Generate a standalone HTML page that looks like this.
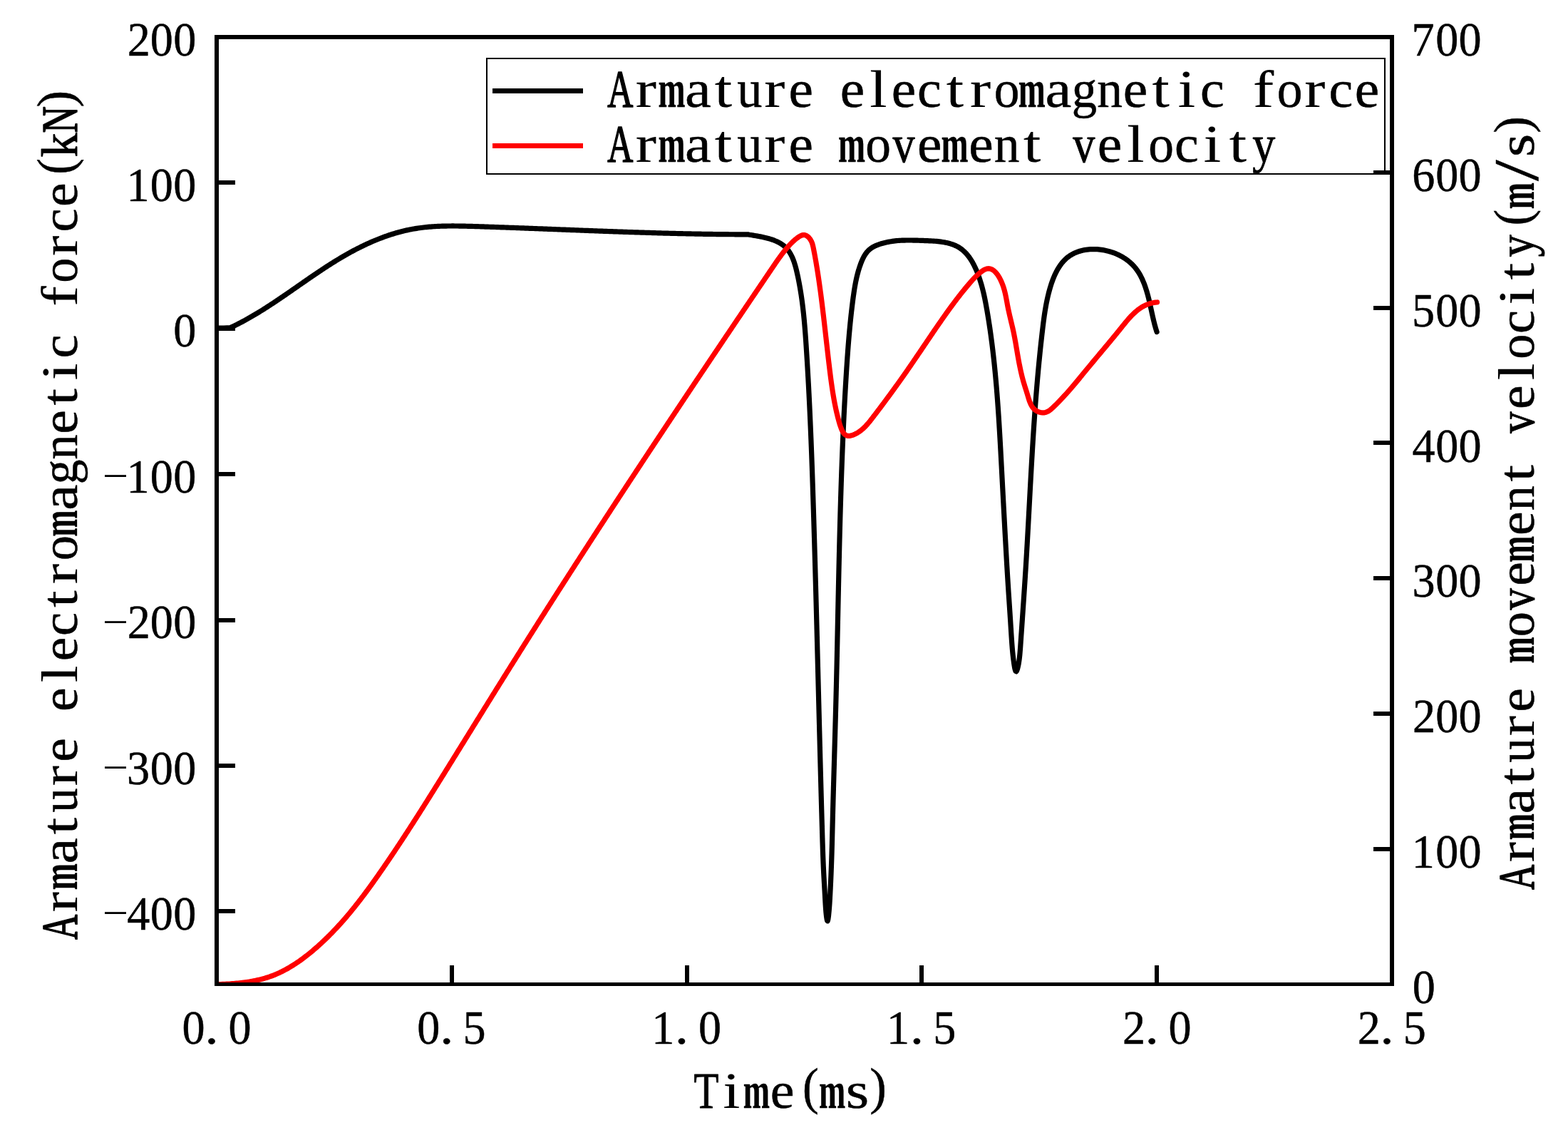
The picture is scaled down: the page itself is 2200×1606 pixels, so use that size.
<!DOCTYPE html>
<html lang="en"><head><meta charset="utf-8"><title>Armature electromagnetic force and movement velocity</title>
<style>
html,body{margin:0;padding:0;background:#fff;}
body{width:2200px;height:1606px;overflow:hidden;}
svg{display:block;}
text{font-family:"Liberation Serif","Noto Serif CJK SC",serif;fill:#000;stroke:#000;stroke-width:0.5px;stroke-linejoin:round;}
</style></head><body>
<svg width="2200" height="1606" viewBox="0 0 2200 1606">
<rect x="0" y="0" width="2200" height="1606" fill="#fff"/>
<defs><clipPath id="plotclip"><rect x="304" y="52" width="1649" height="1329"/></clipPath></defs>
<g fill="none" stroke-width="7.2" stroke-linejoin="round" stroke-linecap="round" clip-path="url(#plotclip)">
<path stroke="#000" d="M304.00,460.20 L314.00,460.10 L323.00,459.70 L324.82,458.85 L326.62,457.99 L328.42,457.13 L330.21,456.25 L332.00,455.36 L333.78,454.46 L335.55,453.55 L337.32,452.63 L339.08,451.71 L340.84,450.77 L342.60,449.82 L344.35,448.87 L346.10,447.90 L347.84,446.93 L349.58,445.95 L351.31,444.96 L353.04,443.97 L354.76,442.96 L356.48,441.95 L358.20,440.93 L359.92,439.91 L361.63,438.87 L363.33,437.84 L365.04,436.79 L366.74,435.74 L368.43,434.68 L370.13,433.61 L371.82,432.54 L373.51,431.47 L375.19,430.39 L376.88,429.30 L378.56,428.21 L380.24,427.11 L381.91,426.01 L383.59,424.91 L385.26,423.80 L386.93,422.69 L388.60,421.57 L390.26,420.45 L391.93,419.33 L393.59,418.20 L395.25,417.07 L396.91,415.94 L398.57,414.80 L400.23,413.67 L401.89,412.53 L403.55,411.38 L405.20,410.24 L406.86,409.10 L408.51,407.95 L410.17,406.80 L411.82,405.65 L413.48,404.50 L415.13,403.35 L416.78,402.20 L418.44,401.05 L420.09,399.90 L421.75,398.75 L423.40,397.60 L425.06,396.45 L426.71,395.30 L428.37,394.16 L430.03,393.01 L431.69,391.86 L433.35,390.72 L435.01,389.58 L436.67,388.44 L438.33,387.30 L440.00,386.16 L441.67,385.03 L443.34,383.90 L445.01,382.77 L446.68,381.65 L448.35,380.53 L450.03,379.41 L451.71,378.30 L453.39,377.19 L455.08,376.08 L456.76,374.98 L458.45,373.88 L460.14,372.79 L461.84,371.70 L463.54,370.62 L465.24,369.55 L466.94,368.47 L468.65,367.41 L470.36,366.35 L472.08,365.30 L473.80,364.25 L475.52,363.21 L477.25,362.17 L478.98,361.15 L480.71,360.13 L482.45,359.11 L484.19,358.11 L485.94,357.11 L487.69,356.12 L489.45,355.14 L491.21,354.16 L492.98,353.20 L494.75,352.24 L496.53,351.29 L498.31,350.36 L500.09,349.43 L501.88,348.51 L503.68,347.60 L505.47,346.70 L507.28,345.80 L509.09,344.92 L510.90,344.05 L512.71,343.19 L514.53,342.35 L516.36,341.51 L518.19,340.68 L520.02,339.87 L521.86,339.06 L523.70,338.27 L525.55,337.49 L527.40,336.72 L529.25,335.97 L531.11,335.23 L532.97,334.50 L534.84,333.78 L536.71,333.08 L538.58,332.38 L540.46,331.71 L542.34,331.04 L544.23,330.39 L546.12,329.76 L548.01,329.14 L549.91,328.53 L551.81,327.94 L553.71,327.36 L555.62,326.80 L557.53,326.26 L559.44,325.72 L561.36,325.21 L563.28,324.71 L565.20,324.23 L567.13,323.76 L569.06,323.31 L571.00,322.87 L572.93,322.46 L574.87,322.06 L576.82,321.67 L578.76,321.31 L580.71,320.96 L582.67,320.63 L584.62,320.32 L586.58,320.02 L588.54,319.74 L590.51,319.48 L592.47,319.23 L594.44,319.00 L596.42,318.78 L598.39,318.58 L600.37,318.39 L602.35,318.21 L604.33,318.05 L606.31,317.90 L608.30,317.77 L610.29,317.64 L612.27,317.53 L614.27,317.43 L616.26,317.34 L618.25,317.26 L620.25,317.19 L622.25,317.14 L624.25,317.09 L626.25,317.05 L628.25,317.02 L630.26,316.99 L632.26,316.98 L634.27,316.97 L636.27,316.97 L638.28,316.98 L640.29,316.99 L642.30,317.01 L644.31,317.04 L646.32,317.07 L648.33,317.10 L650.35,317.14 L652.36,317.19 L654.37,317.24 L656.39,317.29 L658.40,317.34 L660.41,317.40 L662.43,317.46 L664.44,317.52 L666.46,317.58 L668.47,317.64 L670.48,317.71 L672.50,317.77 L674.51,317.84 L676.52,317.90 L678.54,317.97 L680.55,318.04 L682.56,318.10 L684.57,318.17 L686.58,318.24 L688.60,318.31 L690.61,318.38 L692.62,318.45 L694.63,318.52 L696.64,318.59 L698.65,318.66 L700.66,318.73 L702.67,318.80 L704.68,318.87 L706.69,318.94 L708.70,319.01 L710.71,319.08 L712.72,319.16 L714.73,319.23 L716.74,319.30 L718.75,319.38 L720.76,319.45 L722.76,319.52 L724.77,319.60 L726.78,319.67 L728.79,319.75 L730.80,319.82 L732.80,319.90 L734.81,319.97 L736.82,320.05 L738.83,320.13 L740.83,320.20 L742.84,320.28 L744.85,320.35 L746.85,320.43 L748.86,320.51 L750.86,320.58 L752.87,320.66 L754.88,320.74 L756.88,320.82 L758.89,320.89 L760.89,320.97 L762.90,321.05 L764.90,321.13 L766.91,321.20 L768.91,321.28 L770.92,321.36 L772.92,321.44 L774.93,321.52 L776.93,321.59 L778.94,321.67 L780.94,321.75 L782.95,321.83 L784.95,321.91 L786.95,321.99 L788.96,322.06 L790.96,322.14 L792.97,322.22 L794.97,322.30 L796.97,322.38 L798.98,322.45 L800.98,322.53 L802.98,322.61 L804.99,322.69 L806.99,322.76 L808.99,322.84 L811.00,322.92 L813.00,323.00 L815.00,323.07 L817.00,323.15 L819.01,323.23 L821.01,323.30 L823.01,323.38 L825.02,323.46 L827.02,323.53 L829.02,323.61 L831.02,323.68 L833.03,323.76 L835.03,323.84 L837.03,323.91 L839.03,323.99 L841.03,324.06 L843.04,324.13 L845.04,324.21 L847.04,324.28 L849.04,324.36 L851.04,324.43 L853.05,324.50 L855.05,324.58 L857.05,324.65 L859.05,324.72 L861.05,324.79 L863.06,324.86 L865.06,324.93 L867.06,325.01 L869.06,325.08 L871.06,325.15 L873.07,325.22 L875.07,325.28 L877.07,325.35 L879.07,325.42 L881.07,325.49 L883.08,325.56 L885.08,325.62 L887.08,325.69 L889.08,325.76 L891.08,325.82 L893.09,325.89 L895.09,325.95 L897.09,326.02 L899.09,326.08 L901.09,326.15 L903.10,326.21 L905.10,326.27 L907.10,326.33 L909.10,326.39 L911.11,326.46 L913.11,326.52 L915.11,326.58 L917.11,326.63 L919.12,326.69 L921.12,326.75 L923.12,326.81 L925.12,326.87 L927.13,326.92 L929.13,326.98 L931.13,327.03 L933.14,327.09 L935.14,327.14 L937.14,327.19 L939.15,327.25 L941.15,327.30 L943.15,327.35 L945.16,327.40 L947.16,327.45 L949.16,327.50 L951.17,327.54 L953.17,327.59 L955.17,327.64 L957.18,327.68 L959.18,327.73 L961.19,327.77 L963.19,327.82 L965.20,327.86 L967.20,327.90 L969.21,327.94 L971.21,327.98 L973.21,328.02 L975.22,328.06 L977.23,328.10 L979.23,328.14 L981.24,328.18 L983.24,328.21 L985.25,328.25 L987.25,328.28 L989.26,328.31 L991.26,328.34 L993.27,328.38 L995.28,328.41 L997.28,328.43 L999.29,328.46 L1001.30,328.49 L1003.30,328.52 L1005.31,328.54 L1007.32,328.57 L1009.33,328.59 L1011.33,328.61 L1013.34,328.64 L1015.35,328.66 L1017.36,328.68 L1019.37,328.69 L1021.37,328.71 L1023.38,328.73 L1025.39,328.74 L1027.40,328.76 L1029.41,328.77 L1031.42,328.79 L1033.43,328.80 L1035.44,328.81 L1037.45,328.82 L1039.46,328.82 L1041.47,328.83 L1043.48,328.84 L1045.49,328.84 L1047.50,328.85 L1049.51,328.85 L1051.28,329.22 L1053.10,329.51 L1054.97,329.82 L1056.87,330.13 L1058.81,330.45 L1060.78,330.79 L1062.78,331.14 L1064.80,331.50 L1066.83,331.89 L1068.87,332.30 L1070.92,332.74 L1072.96,333.20 L1075.01,333.70 L1077.04,334.23 L1079.06,334.79 L1081.06,335.39 L1083.04,336.04 L1084.99,336.72 L1086.91,337.46 L1088.79,338.24 L1090.62,339.07 L1092.41,339.96 L1094.14,340.91 L1095.82,341.91 L1097.43,342.97 L1098.97,344.10 L1100.44,345.30 L1101.84,346.56 L1103.16,347.89 L1104.41,349.28 L1105.60,350.74 L1106.71,352.25 L1107.77,353.81 L1108.76,355.42 L1109.70,357.08 L1110.58,358.79 L1111.41,360.54 L1112.20,362.32 L1112.94,364.14 L1113.64,366.00 L1114.30,367.88 L1114.92,369.79 L1115.51,371.72 L1116.07,373.66 L1116.60,375.63 L1117.11,377.61 L1117.59,379.60 L1118.06,381.60 L1118.51,383.60 L1118.96,385.60 L1119.38,387.60 L1119.80,389.60 L1120.21,391.60 L1120.61,393.60 L1121.00,395.60 L1121.37,397.60 L1121.74,399.60 L1122.10,401.60 L1122.45,403.59 L1122.79,405.59 L1123.12,407.59 L1123.44,409.58 L1123.76,411.58 L1124.06,413.57 L1124.36,415.57 L1124.65,417.56 L1124.93,419.55 L1125.21,421.55 L1125.47,423.54 L1125.73,425.53 L1125.98,427.52 L1126.23,429.52 L1126.47,431.51 L1126.70,433.50 L1126.93,435.49 L1127.15,437.48 L1127.36,439.47 L1127.57,441.46 L1127.77,443.45 L1127.97,445.44 L1128.16,447.43 L1128.35,449.42 L1128.53,451.41 L1128.71,453.40 L1128.89,455.39 L1129.06,457.38 L1129.22,459.37 L1129.39,461.36 L1129.54,463.35 L1129.70,465.34 L1129.85,467.33 L1130.00,469.32 L1130.15,471.31 L1130.29,473.29 L1130.43,475.28 L1130.57,477.27 L1130.71,479.26 L1130.85,481.25 L1130.98,483.24 L1131.11,485.24 L1131.24,487.23 L1131.37,489.22 L1131.50,491.21 L1131.63,493.20 L1131.76,495.19 L1131.88,497.18 L1132.01,499.17 L1132.13,501.17 L1132.26,503.16 L1132.38,505.15 L1132.50,507.14 L1132.62,509.14 L1132.74,511.13 L1132.86,513.12 L1132.98,515.12 L1133.09,517.11 L1133.21,519.10 L1133.32,521.10 L1133.44,523.09 L1133.55,525.09 L1133.66,527.08 L1133.78,529.07 L1133.89,531.07 L1134.00,533.06 L1134.10,535.06 L1134.21,537.05 L1134.32,539.05 L1134.43,541.05 L1134.53,543.04 L1134.64,545.04 L1134.74,547.03 L1134.84,549.03 L1134.94,551.03 L1135.05,553.02 L1135.15,555.02 L1135.25,557.02 L1135.35,559.01 L1135.44,561.01 L1135.54,563.01 L1135.64,565.00 L1135.74,567.00 L1135.83,569.00 L1135.93,571.00 L1136.02,573.00 L1136.11,574.99 L1136.21,576.99 L1136.30,578.99 L1136.39,580.99 L1136.48,582.99 L1136.57,584.99 L1136.66,586.98 L1136.75,588.98 L1136.84,590.98 L1136.92,592.98 L1137.01,594.98 L1137.10,596.98 L1137.18,598.98 L1137.27,600.98 L1137.35,602.98 L1137.43,604.98 L1137.52,606.98 L1137.60,608.98 L1137.68,610.98 L1137.76,612.98 L1137.85,614.98 L1137.93,616.98 L1138.01,618.98 L1138.08,620.98 L1138.16,622.98 L1138.24,624.98 L1138.32,626.98 L1138.40,628.98 L1138.47,630.98 L1138.55,632.98 L1138.63,634.98 L1138.70,636.98 L1138.78,638.98 L1138.85,640.99 L1138.92,642.99 L1139.00,644.99 L1139.07,646.99 L1139.14,648.99 L1139.21,650.99 L1139.29,652.99 L1139.36,654.99 L1139.43,656.99 L1139.50,659.00 L1139.57,661.00 L1139.64,663.00 L1139.71,665.00 L1139.78,667.00 L1139.85,669.00 L1139.92,671.01 L1139.98,673.01 L1140.05,675.01 L1140.12,677.01 L1140.19,679.01 L1140.25,681.01 L1140.32,683.02 L1140.38,685.02 L1140.45,687.02 L1140.52,689.02 L1140.58,691.02 L1140.65,693.02 L1140.71,695.03 L1140.78,697.03 L1140.84,699.03 L1140.90,701.03 L1140.97,703.03 L1141.03,705.03 L1141.09,707.04 L1141.16,709.04 L1141.22,711.04 L1141.28,713.04 L1141.35,715.04 L1141.41,717.04 L1141.47,719.05 L1141.53,721.05 L1141.59,723.05 L1141.66,725.05 L1141.72,727.05 L1141.78,729.05 L1141.84,731.06 L1141.90,733.06 L1141.96,735.06 L1142.02,737.06 L1142.08,739.06 L1142.14,741.06 L1142.20,743.06 L1142.26,745.07 L1142.32,747.07 L1142.38,749.07 L1142.44,751.07 L1142.50,753.07 L1142.56,755.07 L1142.62,757.07 L1142.68,759.07 L1142.74,761.08 L1142.80,763.08 L1142.86,765.08 L1142.91,767.08 L1142.97,769.08 L1143.03,771.08 L1143.09,773.08 L1143.15,775.08 L1143.20,777.08 L1143.26,779.09 L1143.32,781.09 L1143.38,783.09 L1143.43,785.09 L1143.49,787.09 L1143.55,789.09 L1143.60,791.09 L1143.66,793.09 L1143.72,795.09 L1143.77,797.09 L1143.83,799.09 L1143.89,801.10 L1143.94,803.10 L1144.00,805.10 L1144.05,807.10 L1144.11,809.10 L1144.17,811.10 L1144.22,813.10 L1144.28,815.10 L1144.33,817.10 L1144.39,819.10 L1144.44,821.10 L1144.50,823.10 L1144.55,825.10 L1144.61,827.11 L1144.66,829.11 L1144.72,831.11 L1144.77,833.11 L1144.83,835.11 L1144.88,837.11 L1144.93,839.11 L1144.99,841.11 L1145.04,843.11 L1145.10,845.11 L1145.15,847.11 L1145.20,849.11 L1145.26,851.11 L1145.31,853.11 L1145.36,855.11 L1145.42,857.11 L1145.47,859.11 L1145.52,861.11 L1145.58,863.12 L1145.63,865.12 L1145.68,867.12 L1145.74,869.12 L1145.79,871.12 L1145.84,873.12 L1145.89,875.12 L1145.95,877.12 L1146.00,879.12 L1146.05,881.12 L1146.11,883.12 L1146.16,885.12 L1146.21,887.12 L1146.26,889.12 L1146.31,891.12 L1146.37,893.12 L1146.42,895.12 L1146.47,897.12 L1146.52,899.12 L1146.58,901.12 L1146.63,903.12 L1146.68,905.12 L1146.73,907.12 L1146.78,909.12 L1146.83,911.12 L1146.89,913.12 L1146.94,915.12 L1146.99,917.12 L1147.04,919.12 L1147.09,921.12 L1147.14,923.12 L1147.20,925.12 L1147.25,927.12 L1147.30,929.12 L1147.35,931.12 L1147.40,933.12 L1147.45,935.12 L1147.51,937.13 L1147.56,939.13 L1147.61,941.13 L1147.66,943.13 L1147.71,945.13 L1147.76,947.13 L1147.81,949.13 L1147.86,951.13 L1147.92,953.13 L1147.97,955.13 L1148.02,957.13 L1148.07,959.13 L1148.12,961.13 L1148.17,963.13 L1148.22,965.13 L1148.27,967.13 L1148.33,969.13 L1148.38,971.13 L1148.43,973.13 L1148.48,975.13 L1148.53,977.13 L1148.58,979.13 L1148.63,981.13 L1148.68,983.13 L1148.73,985.13 L1148.79,987.13 L1148.84,989.13 L1148.89,991.13 L1148.94,993.13 L1148.99,995.13 L1149.04,997.13 L1149.09,999.13 L1149.15,1001.13 L1149.20,1003.13 L1149.25,1005.13 L1149.30,1007.13 L1149.35,1009.13 L1149.40,1011.13 L1149.45,1013.13 L1149.51,1015.13 L1149.56,1017.13 L1149.61,1019.13 L1149.66,1021.13 L1149.71,1023.13 L1149.76,1025.13 L1149.82,1027.13 L1149.87,1029.13 L1149.92,1031.13 L1149.97,1033.13 L1150.02,1035.13 L1150.07,1037.13 L1150.13,1039.13 L1150.18,1041.13 L1150.23,1043.13 L1150.28,1045.13 L1150.34,1047.13 L1150.39,1049.13 L1150.44,1051.13 L1150.49,1053.13 L1150.54,1055.13 L1150.60,1057.13 L1150.65,1059.13 L1150.70,1061.13 L1150.76,1063.13 L1150.81,1065.13 L1150.86,1067.13 L1150.91,1069.13 L1150.97,1071.13 L1151.02,1073.13 L1151.07,1075.13 L1151.13,1077.13 L1151.18,1079.13 L1151.23,1081.13 L1151.29,1083.13 L1151.34,1085.13 L1151.39,1087.13 L1151.45,1089.13 L1151.50,1091.13 L1151.55,1093.13 L1151.61,1095.13 L1151.66,1097.13 L1151.72,1099.13 L1151.77,1101.13 L1151.82,1103.13 L1151.88,1105.13 L1151.93,1107.13 L1151.99,1109.13 L1152.04,1111.13 L1152.10,1113.13 L1152.15,1115.13 L1152.21,1117.13 L1152.26,1119.13 L1152.32,1121.13 L1152.37,1123.13 L1152.43,1125.13 L1152.48,1127.13 L1152.54,1129.13 L1152.60,1131.13 L1152.65,1133.13 L1152.71,1135.13 L1152.76,1137.13 L1152.82,1139.13 L1152.88,1141.13 L1152.93,1143.13 L1152.99,1145.13 L1153.04,1147.13 L1153.10,1149.13 L1153.16,1151.13 L1153.22,1153.13 L1153.27,1155.13 L1153.33,1157.13 L1153.39,1159.14 L1153.45,1161.14 L1153.50,1163.14 L1153.56,1165.14 L1153.62,1167.14 L1153.68,1169.14 L1153.74,1171.14 L1153.79,1173.14 L1153.85,1175.14 L1153.91,1177.14 L1153.97,1179.14 L1154.03,1181.14 L1154.10,1183.14 L1154.16,1185.14 L1154.22,1187.15 L1154.29,1189.15 L1154.35,1191.15 L1154.42,1193.15 L1154.49,1195.16 L1154.56,1197.16 L1154.63,1199.17 L1154.70,1201.17 L1154.78,1203.18 L1154.86,1205.18 L1154.93,1207.19 L1155.01,1209.20 L1155.10,1211.21 L1155.18,1213.21 L1155.27,1215.22 L1155.36,1217.23 L1155.45,1219.25 L1155.55,1221.26 L1155.64,1223.27 L1155.74,1225.28 L1155.85,1227.30 L1155.95,1229.31 L1156.06,1231.33 L1156.17,1233.35 L1156.28,1235.36 L1156.40,1237.37 L1156.51,1239.38 L1156.62,1241.38 L1156.74,1243.37 L1156.85,1245.36 L1156.97,1247.34 L1157.08,1249.31 L1157.19,1251.27 L1157.29,1253.21 L1157.40,1255.15 L1157.50,1257.07 L1157.60,1258.99 L1157.70,1260.90 L1157.80,1262.81 L1157.91,1264.72 L1158.02,1266.65 L1158.13,1268.59 L1158.26,1270.54 L1158.39,1272.53 L1158.53,1274.54 L1158.69,1276.58 L1158.86,1278.66 L1159.05,1280.78 L1159.27,1282.93 L1159.52,1285.12 L1159.84,1287.32 L1160.22,1289.52 L1160.65,1291.27 L1161.11,1291.77 L1161.56,1290.68 L1161.96,1288.63 L1162.28,1286.32 L1162.55,1283.97 L1162.79,1281.68 L1163.00,1279.47 L1163.20,1277.34 L1163.38,1275.26 L1163.54,1273.25 L1163.69,1271.27 L1163.83,1269.34 L1163.96,1267.44 L1164.07,1265.55 L1164.19,1263.68 L1164.29,1261.82 L1164.40,1259.95 L1164.50,1258.06 L1164.60,1256.17 L1164.71,1254.26 L1164.81,1252.34 L1164.90,1250.40 L1165.00,1248.46 L1165.10,1246.50 L1165.19,1244.54 L1165.29,1242.57 L1165.38,1240.59 L1165.47,1238.60 L1165.56,1236.60 L1165.65,1234.60 L1165.74,1232.59 L1165.82,1230.57 L1165.91,1228.56 L1165.99,1226.53 L1166.07,1224.51 L1166.15,1222.48 L1166.23,1220.45 L1166.31,1218.42 L1166.38,1216.38 L1166.46,1214.35 L1166.53,1212.32 L1166.60,1210.29 L1166.67,1208.26 L1166.74,1206.23 L1166.81,1204.21 L1166.87,1202.18 L1166.93,1200.17 L1167.00,1198.15 L1167.06,1196.14 L1167.12,1194.13 L1167.17,1192.12 L1167.23,1190.11 L1167.29,1188.11 L1167.34,1186.11 L1167.40,1184.11 L1167.45,1182.11 L1167.50,1180.12 L1167.55,1178.12 L1167.60,1176.13 L1167.65,1174.14 L1167.70,1172.15 L1167.75,1170.15 L1167.80,1168.17 L1167.85,1166.18 L1167.90,1164.19 L1167.95,1162.20 L1168.00,1160.21 L1168.04,1158.22 L1168.09,1156.24 L1168.14,1154.25 L1168.19,1152.26 L1168.24,1150.27 L1168.29,1148.28 L1168.34,1146.29 L1168.39,1144.30 L1168.44,1142.30 L1168.49,1140.31 L1168.54,1138.32 L1168.59,1136.32 L1168.64,1134.32 L1168.69,1132.33 L1168.75,1130.33 L1168.80,1128.33 L1168.85,1126.33 L1168.91,1124.33 L1168.96,1122.33 L1169.02,1120.33 L1169.07,1118.32 L1169.13,1116.32 L1169.18,1114.32 L1169.24,1112.32 L1169.29,1110.31 L1169.35,1108.31 L1169.41,1106.30 L1169.46,1104.30 L1169.52,1102.30 L1169.58,1100.29 L1169.63,1098.29 L1169.69,1096.28 L1169.75,1094.28 L1169.81,1092.27 L1169.86,1090.27 L1169.92,1088.26 L1169.98,1086.26 L1170.04,1084.25 L1170.10,1082.25 L1170.15,1080.25 L1170.21,1078.24 L1170.27,1076.24 L1170.33,1074.24 L1170.39,1072.23 L1170.44,1070.23 L1170.50,1068.23 L1170.56,1066.23 L1170.62,1064.22 L1170.68,1062.22 L1170.74,1060.22 L1170.79,1058.22 L1170.85,1056.22 L1170.91,1054.21 L1170.97,1052.21 L1171.03,1050.21 L1171.08,1048.21 L1171.14,1046.21 L1171.20,1044.21 L1171.26,1042.21 L1171.32,1040.21 L1171.37,1038.20 L1171.43,1036.20 L1171.49,1034.20 L1171.55,1032.20 L1171.60,1030.20 L1171.66,1028.20 L1171.72,1026.20 L1171.77,1024.20 L1171.83,1022.20 L1171.89,1020.20 L1171.94,1018.20 L1172.00,1016.20 L1172.05,1014.20 L1172.11,1012.20 L1172.17,1010.20 L1172.22,1008.20 L1172.28,1006.20 L1172.33,1004.20 L1172.39,1002.20 L1172.44,1000.20 L1172.49,998.20 L1172.55,996.20 L1172.60,994.20 L1172.66,992.20 L1172.71,990.20 L1172.76,988.20 L1172.81,986.20 L1172.87,984.20 L1172.92,982.20 L1172.97,980.20 L1173.02,978.20 L1173.07,976.20 L1173.12,974.21 L1173.17,972.21 L1173.22,970.21 L1173.27,968.21 L1173.32,966.21 L1173.37,964.21 L1173.42,962.21 L1173.47,960.21 L1173.52,958.21 L1173.57,956.21 L1173.61,954.21 L1173.66,952.21 L1173.71,950.20 L1173.75,948.20 L1173.80,946.20 L1173.85,944.20 L1173.89,942.20 L1173.94,940.20 L1173.99,938.20 L1174.03,936.20 L1174.08,934.20 L1174.12,932.20 L1174.17,930.20 L1174.21,928.20 L1174.26,926.20 L1174.30,924.20 L1174.35,922.20 L1174.39,920.20 L1174.43,918.20 L1174.48,916.20 L1174.52,914.20 L1174.57,912.20 L1174.61,910.20 L1174.65,908.20 L1174.70,906.20 L1174.74,904.20 L1174.78,902.20 L1174.83,900.19 L1174.87,898.19 L1174.91,896.19 L1174.95,894.19 L1175.00,892.19 L1175.04,890.19 L1175.08,888.19 L1175.12,886.19 L1175.17,884.19 L1175.21,882.19 L1175.25,880.19 L1175.29,878.19 L1175.33,876.19 L1175.38,874.19 L1175.42,872.18 L1175.46,870.18 L1175.50,868.18 L1175.54,866.18 L1175.59,864.18 L1175.63,862.18 L1175.67,860.18 L1175.71,858.18 L1175.75,856.18 L1175.80,854.18 L1175.84,852.18 L1175.88,850.17 L1175.92,848.17 L1175.96,846.17 L1176.01,844.17 L1176.05,842.17 L1176.09,840.17 L1176.13,838.17 L1176.17,836.17 L1176.22,834.17 L1176.26,832.17 L1176.30,830.17 L1176.35,828.16 L1176.39,826.16 L1176.43,824.16 L1176.47,822.16 L1176.52,820.16 L1176.56,818.16 L1176.60,816.16 L1176.65,814.16 L1176.69,812.16 L1176.74,810.16 L1176.78,808.16 L1176.82,806.15 L1176.87,804.15 L1176.91,802.15 L1176.96,800.15 L1177.00,798.15 L1177.05,796.15 L1177.09,794.15 L1177.14,792.15 L1177.19,790.15 L1177.23,788.15 L1177.28,786.14 L1177.32,784.14 L1177.37,782.14 L1177.42,780.14 L1177.46,778.14 L1177.51,776.14 L1177.56,774.14 L1177.61,772.14 L1177.66,770.14 L1177.70,768.14 L1177.75,766.14 L1177.80,764.13 L1177.85,762.13 L1177.90,760.13 L1177.95,758.13 L1178.00,756.13 L1178.05,754.13 L1178.10,752.13 L1178.15,750.13 L1178.20,748.13 L1178.26,746.13 L1178.31,744.13 L1178.36,742.13 L1178.41,740.12 L1178.47,738.12 L1178.52,736.12 L1178.57,734.12 L1178.63,732.12 L1178.68,730.12 L1178.74,728.12 L1178.79,726.12 L1178.85,724.12 L1178.90,722.12 L1178.96,720.12 L1179.02,718.12 L1179.08,716.12 L1179.13,714.12 L1179.19,712.12 L1179.25,710.11 L1179.31,708.11 L1179.37,706.11 L1179.43,704.11 L1179.49,702.11 L1179.55,700.11 L1179.61,698.11 L1179.67,696.11 L1179.74,694.11 L1179.80,692.11 L1179.86,690.11 L1179.93,688.11 L1179.99,686.11 L1180.05,684.11 L1180.12,682.11 L1180.19,680.11 L1180.25,678.11 L1180.32,676.11 L1180.39,674.11 L1180.45,672.11 L1180.52,670.11 L1180.59,668.11 L1180.66,666.11 L1180.73,664.11 L1180.80,662.11 L1180.87,660.11 L1180.95,658.11 L1181.02,656.11 L1181.09,654.11 L1181.17,652.11 L1181.24,650.11 L1181.32,648.11 L1181.39,646.11 L1181.47,644.11 L1181.54,642.11 L1181.62,640.11 L1181.70,638.11 L1181.78,636.11 L1181.86,634.11 L1181.94,632.11 L1182.02,630.11 L1182.10,628.11 L1182.18,626.11 L1182.27,624.11 L1182.35,622.11 L1182.43,620.11 L1182.52,618.11 L1182.60,616.11 L1182.69,614.11 L1182.78,612.11 L1182.86,610.11 L1182.95,608.12 L1183.04,606.12 L1183.13,604.12 L1183.22,602.12 L1183.31,600.12 L1183.41,598.12 L1183.50,596.12 L1183.59,594.12 L1183.69,592.12 L1183.78,590.12 L1183.88,588.12 L1183.97,586.13 L1184.07,584.13 L1184.17,582.13 L1184.27,580.13 L1184.37,578.13 L1184.47,576.13 L1184.57,574.13 L1184.67,572.13 L1184.78,570.14 L1184.88,568.14 L1184.99,566.14 L1185.09,564.14 L1185.20,562.14 L1185.31,560.14 L1185.42,558.15 L1185.52,556.15 L1185.64,554.15 L1185.75,552.15 L1185.86,550.15 L1185.97,548.15 L1186.08,546.16 L1186.20,544.16 L1186.31,542.16 L1186.43,540.16 L1186.55,538.16 L1186.67,536.17 L1186.79,534.17 L1186.91,532.17 L1187.03,530.17 L1187.15,528.18 L1187.27,526.18 L1187.40,524.18 L1187.52,522.18 L1187.65,520.19 L1187.78,518.19 L1187.90,516.19 L1188.03,514.19 L1188.17,512.20 L1188.30,510.20 L1188.43,508.20 L1188.57,506.21 L1188.70,504.21 L1188.84,502.21 L1188.98,500.22 L1189.13,498.22 L1189.27,496.22 L1189.42,494.23 L1189.56,492.23 L1189.71,490.24 L1189.87,488.24 L1190.02,486.25 L1190.17,484.25 L1190.33,482.26 L1190.49,480.26 L1190.66,478.27 L1190.82,476.27 L1190.99,474.28 L1191.16,472.29 L1191.33,470.29 L1191.51,468.30 L1191.69,466.31 L1191.87,464.32 L1192.05,462.32 L1192.24,460.33 L1192.43,458.34 L1192.62,456.35 L1192.81,454.36 L1193.01,452.37 L1193.22,450.38 L1193.42,448.39 L1193.63,446.40 L1193.84,444.41 L1194.05,442.42 L1194.27,440.44 L1194.50,438.45 L1194.72,436.46 L1194.95,434.47 L1195.18,432.49 L1195.42,430.50 L1195.66,428.52 L1195.90,426.53 L1196.15,424.55 L1196.40,422.56 L1196.66,420.58 L1196.92,418.59 L1197.19,416.61 L1197.46,414.63 L1197.74,412.65 L1198.02,410.67 L1198.32,408.69 L1198.62,406.72 L1198.94,404.74 L1199.27,402.77 L1199.61,400.80 L1199.96,398.83 L1200.33,396.87 L1200.72,394.91 L1201.13,392.95 L1201.55,391.00 L1201.99,389.05 L1202.45,387.10 L1202.94,385.16 L1203.45,383.22 L1203.98,381.29 L1204.53,379.36 L1205.11,377.44 L1205.72,375.52 L1206.36,373.61 L1207.02,371.70 L1207.71,369.80 L1208.44,367.91 L1209.20,366.04 L1210.01,364.18 L1210.86,362.36 L1211.77,360.57 L1212.74,358.83 L1213.78,357.14 L1214.89,355.52 L1216.07,353.96 L1217.34,352.48 L1218.70,351.08 L1220.15,349.77 L1221.70,348.56 L1223.34,347.45 L1225.06,346.41 L1226.84,345.46 L1228.68,344.59 L1230.57,343.79 L1232.50,343.05 L1234.46,342.38 L1236.43,341.76 L1238.42,341.20 L1240.40,340.68 L1242.38,340.20 L1244.35,339.77 L1246.30,339.37 L1248.26,339.01 L1250.20,338.68 L1252.14,338.39 L1254.07,338.13 L1256.00,337.90 L1257.93,337.70 L1259.85,337.53 L1261.78,337.39 L1263.70,337.26 L1265.63,337.17 L1267.56,337.09 L1269.49,337.04 L1271.42,337.00 L1273.36,336.98 L1275.30,336.98 L1277.25,336.99 L1279.21,337.01 L1281.18,337.04 L1283.16,337.09 L1285.15,337.14 L1287.15,337.20 L1289.16,337.26 L1291.18,337.33 L1293.22,337.40 L1295.28,337.47 L1297.35,337.54 L1299.43,337.61 L1301.52,337.69 L1303.62,337.78 L1305.72,337.88 L1307.83,337.99 L1309.94,338.13 L1312.04,338.28 L1314.14,338.46 L1316.22,338.66 L1318.30,338.89 L1320.37,339.15 L1322.42,339.45 L1324.45,339.78 L1326.46,340.15 L1328.44,340.57 L1330.40,341.03 L1332.34,341.54 L1334.24,342.10 L1336.10,342.71 L1337.93,343.38 L1339.73,344.11 L1341.48,344.90 L1343.18,345.76 L1344.84,346.69 L1346.45,347.68 L1348.01,348.75 L1349.53,349.88 L1350.99,351.07 L1352.41,352.33 L1353.79,353.65 L1355.12,355.02 L1356.40,356.45 L1357.65,357.93 L1358.85,359.45 L1360.02,361.02 L1361.14,362.63 L1362.23,364.28 L1363.28,365.97 L1364.29,367.69 L1365.27,369.44 L1366.22,371.22 L1367.13,373.02 L1368.01,374.85 L1368.86,376.69 L1369.68,378.56 L1370.48,380.44 L1371.24,382.32 L1371.98,384.22 L1372.70,386.12 L1373.39,388.03 L1374.05,389.94 L1374.70,391.86 L1375.32,393.78 L1375.92,395.70 L1376.50,397.63 L1377.06,399.56 L1377.60,401.49 L1378.12,403.43 L1378.63,405.37 L1379.12,407.31 L1379.59,409.25 L1380.05,411.20 L1380.50,413.15 L1380.93,415.10 L1381.35,417.06 L1381.76,419.01 L1382.16,420.97 L1382.55,422.93 L1382.92,424.90 L1383.29,426.86 L1383.66,428.82 L1384.01,430.79 L1384.36,432.76 L1384.71,434.72 L1385.05,436.69 L1385.38,438.66 L1385.72,440.63 L1386.04,442.60 L1386.37,444.57 L1386.69,446.54 L1387.00,448.51 L1387.32,450.49 L1387.62,452.46 L1387.93,454.44 L1388.23,456.41 L1388.52,458.39 L1388.82,460.36 L1389.10,462.34 L1389.39,464.32 L1389.67,466.29 L1389.95,468.27 L1390.22,470.25 L1390.49,472.23 L1390.76,474.21 L1391.02,476.19 L1391.28,478.17 L1391.54,480.15 L1391.79,482.13 L1392.04,484.12 L1392.29,486.10 L1392.53,488.08 L1392.77,490.07 L1393.01,492.05 L1393.24,494.04 L1393.47,496.02 L1393.70,498.01 L1393.92,499.99 L1394.15,501.98 L1394.36,503.97 L1394.58,505.96 L1394.79,507.94 L1395.00,509.93 L1395.21,511.92 L1395.41,513.91 L1395.61,515.90 L1395.81,517.89 L1396.01,519.88 L1396.20,521.87 L1396.39,523.86 L1396.58,525.85 L1396.77,527.85 L1396.95,529.84 L1397.13,531.83 L1397.31,533.82 L1397.49,535.82 L1397.66,537.81 L1397.83,539.80 L1398.00,541.80 L1398.17,543.79 L1398.34,545.79 L1398.50,547.78 L1398.66,549.77 L1398.82,551.77 L1398.98,553.77 L1399.13,555.76 L1399.28,557.76 L1399.44,559.75 L1399.59,561.75 L1399.73,563.75 L1399.88,565.74 L1400.02,567.74 L1400.17,569.74 L1400.31,571.73 L1400.44,573.73 L1400.58,575.73 L1400.72,577.73 L1400.85,579.72 L1400.99,581.72 L1401.12,583.72 L1401.25,585.72 L1401.38,587.72 L1401.50,589.71 L1401.63,591.71 L1401.76,593.71 L1401.88,595.71 L1402.00,597.71 L1402.12,599.71 L1402.24,601.71 L1402.36,603.71 L1402.48,605.70 L1402.60,607.70 L1402.72,609.70 L1402.83,611.70 L1402.95,613.70 L1403.06,615.70 L1403.17,617.70 L1403.29,619.70 L1403.40,621.70 L1403.51,623.69 L1403.62,625.69 L1403.73,627.69 L1403.84,629.69 L1403.95,631.69 L1404.05,633.69 L1404.16,635.69 L1404.27,637.68 L1404.38,639.68 L1404.48,641.68 L1404.59,643.68 L1404.70,645.68 L1404.80,647.67 L1404.91,649.67 L1405.01,651.67 L1405.12,653.67 L1405.23,655.66 L1405.33,657.66 L1405.44,659.66 L1405.54,661.66 L1405.65,663.65 L1405.75,665.65 L1405.86,667.64 L1405.96,669.64 L1406.07,671.64 L1406.18,673.63 L1406.28,675.63 L1406.39,677.63 L1406.49,679.62 L1406.60,681.62 L1406.70,683.61 L1406.81,685.61 L1406.92,687.61 L1407.02,689.60 L1407.13,691.60 L1407.23,693.59 L1407.34,695.59 L1407.45,697.59 L1407.55,699.58 L1407.66,701.58 L1407.76,703.57 L1407.87,705.57 L1407.98,707.57 L1408.08,709.56 L1408.19,711.56 L1408.30,713.56 L1408.41,715.55 L1408.51,717.55 L1408.62,719.55 L1408.73,721.54 L1408.84,723.54 L1408.94,725.54 L1409.05,727.54 L1409.16,729.53 L1409.27,731.53 L1409.38,733.53 L1409.49,735.53 L1409.59,737.53 L1409.70,739.53 L1409.81,741.53 L1409.92,743.52 L1410.03,745.52 L1410.14,747.52 L1410.25,749.52 L1410.36,751.53 L1410.47,753.53 L1410.58,755.53 L1410.70,757.53 L1410.81,759.53 L1410.92,761.53 L1411.03,763.54 L1411.14,765.54 L1411.26,767.54 L1411.37,769.55 L1411.48,771.55 L1411.60,773.55 L1411.71,775.56 L1411.82,777.56 L1411.94,779.56 L1412.05,781.57 L1412.17,783.57 L1412.28,785.58 L1412.40,787.58 L1412.52,789.58 L1412.63,791.58 L1412.75,793.59 L1412.87,795.59 L1412.99,797.59 L1413.11,799.59 L1413.23,801.59 L1413.35,803.58 L1413.47,805.58 L1413.59,807.58 L1413.71,809.57 L1413.84,811.57 L1413.96,813.56 L1414.08,815.55 L1414.21,817.54 L1414.33,819.53 L1414.46,821.52 L1414.59,823.50 L1414.72,825.49 L1414.85,827.47 L1414.97,829.45 L1415.10,831.43 L1415.23,833.42 L1415.36,835.40 L1415.50,837.38 L1415.63,839.36 L1415.76,841.34 L1415.89,843.33 L1416.02,845.31 L1416.15,847.30 L1416.29,849.29 L1416.42,851.28 L1416.55,853.27 L1416.68,855.27 L1416.82,857.26 L1416.95,859.26 L1417.08,861.27 L1417.21,863.27 L1417.34,865.28 L1417.47,867.30 L1417.60,869.32 L1417.73,871.34 L1417.86,873.37 L1417.99,875.40 L1418.12,877.44 L1418.24,879.48 L1418.37,881.53 L1418.50,883.57 L1418.63,885.62 L1418.75,887.66 L1418.88,889.70 L1419.01,891.73 L1419.14,893.75 L1419.28,895.76 L1419.41,897.76 L1419.55,899.74 L1419.69,901.71 L1419.83,903.66 L1419.98,905.58 L1420.13,907.48 L1420.28,909.36 L1420.44,911.21 L1420.60,913.05 L1420.77,914.87 L1420.95,916.69 L1421.14,918.53 L1421.35,920.39 L1421.57,922.28 L1421.81,924.22 L1422.07,926.22 L1422.35,928.28 L1422.65,930.42 L1422.99,932.66 L1423.35,934.98 L1423.79,937.34 L1424.37,939.61 L1425.07,941.37 L1425.84,941.90 L1426.60,940.87 L1427.31,938.90 L1427.92,936.74 L1428.43,934.62 L1428.87,932.55 L1429.24,930.52 L1429.57,928.50 L1429.87,926.49 L1430.14,924.48 L1430.38,922.49 L1430.60,920.50 L1430.81,918.51 L1430.99,916.53 L1431.16,914.55 L1431.32,912.58 L1431.47,910.61 L1431.61,908.64 L1431.75,906.66 L1431.89,904.69 L1432.02,902.72 L1432.16,900.74 L1432.29,898.77 L1432.43,896.79 L1432.57,894.81 L1432.70,892.83 L1432.84,890.85 L1432.98,888.87 L1433.12,886.89 L1433.25,884.91 L1433.39,882.92 L1433.53,880.93 L1433.67,878.95 L1433.81,876.96 L1433.94,874.97 L1434.08,872.98 L1434.22,870.99 L1434.36,869.00 L1434.50,867.01 L1434.63,865.02 L1434.77,863.02 L1434.91,861.03 L1435.05,859.03 L1435.19,857.04 L1435.32,855.04 L1435.46,853.04 L1435.60,851.05 L1435.74,849.05 L1435.87,847.05 L1436.01,845.05 L1436.15,843.05 L1436.28,841.05 L1436.42,839.05 L1436.55,837.05 L1436.69,835.05 L1436.82,833.05 L1436.96,831.05 L1437.09,829.05 L1437.22,827.04 L1437.36,825.04 L1437.49,823.04 L1437.62,821.04 L1437.75,819.03 L1437.89,817.03 L1438.02,815.03 L1438.15,813.02 L1438.28,811.02 L1438.41,809.02 L1438.53,807.02 L1438.66,805.01 L1438.79,803.01 L1438.92,801.01 L1439.04,799.01 L1439.17,797.00 L1439.29,795.00 L1439.41,793.00 L1439.54,791.00 L1439.66,789.00 L1439.78,786.99 L1439.90,784.99 L1440.02,782.99 L1440.14,780.99 L1440.26,778.99 L1440.38,776.99 L1440.50,774.99 L1440.61,772.99 L1440.73,770.99 L1440.84,769.00 L1440.96,767.00 L1441.07,765.00 L1441.19,763.00 L1441.30,761.00 L1441.41,759.00 L1441.53,757.01 L1441.64,755.01 L1441.75,753.01 L1441.86,751.01 L1441.97,749.02 L1442.08,747.02 L1442.19,745.02 L1442.30,743.03 L1442.41,741.03 L1442.52,739.03 L1442.63,737.04 L1442.74,735.04 L1442.85,733.04 L1442.96,731.05 L1443.07,729.05 L1443.17,727.06 L1443.28,725.06 L1443.39,723.06 L1443.50,721.07 L1443.61,719.07 L1443.71,717.08 L1443.82,715.08 L1443.93,713.09 L1444.03,711.09 L1444.14,709.10 L1444.25,707.10 L1444.36,705.11 L1444.46,703.11 L1444.57,701.12 L1444.68,699.12 L1444.78,697.13 L1444.89,695.13 L1445.00,693.14 L1445.11,691.14 L1445.21,689.15 L1445.32,687.15 L1445.43,685.16 L1445.54,683.16 L1445.65,681.17 L1445.75,679.18 L1445.86,677.18 L1445.97,675.19 L1446.08,673.19 L1446.19,671.20 L1446.30,669.20 L1446.41,667.21 L1446.52,665.21 L1446.64,663.22 L1446.75,661.22 L1446.86,659.23 L1446.97,657.23 L1447.08,655.23 L1447.20,653.24 L1447.31,651.24 L1447.43,649.25 L1447.54,647.25 L1447.66,645.26 L1447.77,643.26 L1447.89,641.27 L1448.01,639.27 L1448.12,637.27 L1448.24,635.28 L1448.36,633.28 L1448.48,631.28 L1448.60,629.29 L1448.72,627.29 L1448.84,625.29 L1448.97,623.30 L1449.09,621.30 L1449.21,619.30 L1449.34,617.30 L1449.46,615.31 L1449.59,613.31 L1449.72,611.31 L1449.84,609.31 L1449.97,607.31 L1450.10,605.31 L1450.23,603.31 L1450.37,601.32 L1450.50,599.32 L1450.63,597.32 L1450.77,595.32 L1450.90,593.32 L1451.04,591.32 L1451.18,589.32 L1451.31,587.31 L1451.45,585.31 L1451.59,583.31 L1451.74,581.31 L1451.88,579.31 L1452.02,577.31 L1452.17,575.30 L1452.32,573.30 L1452.46,571.30 L1452.61,569.30 L1452.76,567.29 L1452.91,565.29 L1453.07,563.29 L1453.22,561.28 L1453.38,559.28 L1453.53,557.27 L1453.69,555.27 L1453.85,553.27 L1454.01,551.26 L1454.17,549.26 L1454.33,547.25 L1454.50,545.25 L1454.66,543.25 L1454.83,541.24 L1455.00,539.24 L1455.17,537.24 L1455.34,535.24 L1455.51,533.24 L1455.69,531.24 L1455.86,529.24 L1456.04,527.24 L1456.22,525.24 L1456.40,523.24 L1456.58,521.24 L1456.76,519.24 L1456.95,517.25 L1457.13,515.25 L1457.32,513.26 L1457.51,511.26 L1457.70,509.27 L1457.89,507.28 L1458.09,505.29 L1458.28,503.30 L1458.48,501.31 L1458.68,499.32 L1458.88,497.33 L1459.08,495.35 L1459.28,493.36 L1459.49,491.38 L1459.70,489.40 L1459.91,487.42 L1460.12,485.44 L1460.33,483.46 L1460.54,481.49 L1460.76,479.51 L1460.98,477.54 L1461.20,475.57 L1461.42,473.60 L1461.64,471.63 L1461.87,469.67 L1462.09,467.70 L1462.32,465.74 L1462.55,463.78 L1462.78,461.82 L1463.02,459.87 L1463.25,457.91 L1463.49,455.96 L1463.73,454.01 L1463.98,452.06 L1464.23,450.10 L1464.49,448.16 L1464.75,446.21 L1465.02,444.26 L1465.30,442.30 L1465.59,440.35 L1465.89,438.40 L1466.19,436.45 L1466.51,434.49 L1466.84,432.53 L1467.18,430.57 L1467.54,428.61 L1467.90,426.64 L1468.29,424.67 L1468.69,422.70 L1469.10,420.72 L1469.53,418.74 L1469.98,416.75 L1470.45,414.76 L1470.93,412.77 L1471.44,410.76 L1471.96,408.76 L1472.51,406.74 L1473.08,404.73 L1473.67,402.72 L1474.29,400.71 L1474.93,398.71 L1475.60,396.71 L1476.30,394.73 L1477.02,392.76 L1477.77,390.81 L1478.56,388.87 L1479.37,386.96 L1480.22,385.07 L1481.10,383.21 L1482.01,381.38 L1482.96,379.57 L1483.95,377.81 L1484.97,376.08 L1486.03,374.39 L1487.13,372.74 L1488.27,371.13 L1489.45,369.58 L1490.67,368.07 L1491.93,366.61 L1493.24,365.21 L1494.59,363.87 L1495.99,362.58 L1497.44,361.36 L1498.93,360.20 L1500.46,359.11 L1502.04,358.07 L1503.66,357.10 L1505.32,356.19 L1507.01,355.33 L1508.73,354.54 L1510.49,353.81 L1512.28,353.14 L1514.10,352.53 L1515.94,351.97 L1517.81,351.47 L1519.71,351.03 L1521.62,350.65 L1523.56,350.32 L1525.51,350.05 L1527.47,349.84 L1529.45,349.68 L1531.44,349.57 L1533.44,349.52 L1535.45,349.53 L1537.47,349.58 L1539.49,349.69 L1541.51,349.85 L1543.53,350.07 L1545.55,350.33 L1547.57,350.65 L1549.58,351.01 L1551.58,351.43 L1553.58,351.89 L1555.56,352.41 L1557.53,352.97 L1559.49,353.59 L1561.42,354.25 L1563.34,354.95 L1565.24,355.71 L1567.12,356.51 L1568.97,357.35 L1570.80,358.25 L1572.60,359.18 L1574.37,360.16 L1576.10,361.19 L1577.80,362.26 L1579.47,363.37 L1581.10,364.53 L1582.69,365.73 L1584.24,366.97 L1585.74,368.25 L1587.20,369.57 L1588.61,370.93 L1589.97,372.34 L1591.29,373.78 L1592.55,375.26 L1593.76,376.78 L1594.93,378.33 L1596.05,379.92 L1597.13,381.54 L1598.17,383.19 L1599.16,384.87 L1600.11,386.58 L1601.03,388.32 L1601.91,390.09 L1602.75,391.88 L1603.56,393.70 L1604.34,395.54 L1605.09,397.40 L1605.81,399.27 L1606.50,401.17 L1607.16,403.09 L1607.80,405.02 L1608.41,406.96 L1609.01,408.92 L1609.58,410.89 L1610.13,412.87 L1610.67,414.86 L1611.18,416.86 L1611.69,418.87 L1612.18,420.88 L1612.66,422.89 L1613.12,424.91 L1613.58,426.93 L1614.04,428.95 L1614.48,430.97 L1614.92,432.98 L1615.36,434.99 L1615.80,437.00 L1616.23,439.00 L1616.67,440.99 L1617.11,442.97 L1617.55,444.94 L1618.00,446.90 L1618.46,448.85 L1618.92,450.78 L1619.40,452.70 L1619.88,454.60 L1620.38,456.48 L1620.90,458.34 L1621.43,460.18 L1621.97,462.00 L1622.54,463.80 L1623.12,465.57"/>
<path stroke="#f00" d="M304.01,1380.70 L305.97,1380.65 L307.93,1380.59 L309.90,1380.53 L311.88,1380.46 L313.87,1380.38 L315.85,1380.29 L317.84,1380.20 L319.84,1380.09 L321.84,1379.97 L323.84,1379.84 L325.84,1379.70 L327.85,1379.55 L329.85,1379.39 L331.86,1379.21 L333.87,1379.02 L335.87,1378.82 L337.88,1378.60 L339.88,1378.36 L341.89,1378.11 L343.89,1377.85 L345.89,1377.57 L347.88,1377.26 L349.88,1376.95 L351.87,1376.61 L353.85,1376.26 L355.83,1375.88 L357.81,1375.49 L359.77,1375.07 L361.74,1374.63 L363.69,1374.18 L365.64,1373.70 L367.58,1373.19 L369.52,1372.67 L371.44,1372.12 L373.36,1371.55 L375.26,1370.95 L377.16,1370.32 L379.05,1369.68 L380.92,1369.00 L382.79,1368.30 L384.64,1367.57 L386.48,1366.82 L388.31,1366.04 L390.13,1365.23 L391.94,1364.41 L393.74,1363.56 L395.53,1362.68 L397.31,1361.79 L399.08,1360.87 L400.83,1359.93 L402.58,1358.97 L404.32,1357.99 L406.04,1356.99 L407.76,1355.97 L409.47,1354.94 L411.16,1353.88 L412.85,1352.81 L414.53,1351.72 L416.19,1350.61 L417.85,1349.48 L419.50,1348.35 L421.14,1347.19 L422.77,1346.02 L424.39,1344.84 L426.00,1343.64 L427.60,1342.43 L429.19,1341.21 L430.78,1339.98 L432.35,1338.73 L433.92,1337.48 L435.48,1336.21 L437.03,1334.94 L438.57,1333.65 L440.10,1332.36 L441.62,1331.05 L443.13,1329.74 L444.64,1328.42 L446.14,1327.10 L447.63,1325.76 L449.11,1324.42 L450.59,1323.07 L452.05,1321.71 L453.51,1320.34 L454.96,1318.97 L456.41,1317.59 L457.84,1316.20 L459.27,1314.81 L460.69,1313.40 L462.11,1311.99 L463.51,1310.58 L464.91,1309.15 L466.31,1307.72 L467.69,1306.29 L469.07,1304.85 L470.44,1303.40 L471.81,1301.94 L473.17,1300.48 L474.52,1299.01 L475.87,1297.54 L477.21,1296.06 L478.54,1294.57 L479.87,1293.08 L481.19,1291.59 L482.51,1290.08 L483.82,1288.58 L485.12,1287.06 L486.42,1285.54 L487.72,1284.02 L489.01,1282.49 L490.29,1280.96 L491.56,1279.42 L492.84,1277.88 L494.10,1276.33 L495.37,1274.78 L496.62,1273.22 L497.87,1271.66 L499.12,1270.09 L500.36,1268.53 L501.60,1266.95 L502.84,1265.37 L504.06,1263.79 L505.29,1262.21 L506.51,1260.62 L507.72,1259.03 L508.94,1257.43 L510.15,1255.83 L511.35,1254.23 L512.55,1252.62 L513.75,1251.02 L514.94,1249.40 L516.13,1247.79 L517.31,1246.17 L518.50,1244.55 L519.68,1242.93 L520.85,1241.30 L522.02,1239.67 L523.19,1238.04 L524.36,1236.41 L525.52,1234.78 L526.69,1233.14 L527.84,1231.50 L529.00,1229.86 L530.15,1228.22 L531.30,1226.58 L532.45,1224.93 L533.60,1223.29 L534.74,1221.64 L535.88,1219.99 L537.02,1218.34 L538.16,1216.69 L539.30,1215.03 L540.43,1213.38 L541.57,1211.73 L542.70,1210.07 L543.82,1208.41 L544.95,1206.76 L546.08,1205.10 L547.20,1203.44 L548.32,1201.78 L549.44,1200.12 L550.56,1198.45 L551.68,1196.79 L552.79,1195.13 L553.91,1193.46 L555.02,1191.80 L556.13,1190.13 L557.24,1188.46 L558.34,1186.79 L559.45,1185.12 L560.55,1183.45 L561.66,1181.78 L562.76,1180.11 L563.86,1178.44 L564.95,1176.76 L566.05,1175.09 L567.15,1173.41 L568.24,1171.74 L569.33,1170.06 L570.43,1168.38 L571.52,1166.70 L572.61,1165.02 L573.69,1163.34 L574.78,1161.66 L575.87,1159.98 L576.95,1158.30 L578.03,1156.62 L579.12,1154.94 L580.20,1153.25 L581.28,1151.57 L582.36,1149.88 L583.43,1148.20 L584.51,1146.51 L585.59,1144.83 L586.66,1143.14 L587.74,1141.45 L588.81,1139.76 L589.88,1138.07 L590.95,1136.39 L592.02,1134.70 L593.09,1133.01 L594.16,1131.31 L595.23,1129.62 L596.30,1127.93 L597.37,1126.24 L598.43,1124.55 L599.50,1122.85 L600.56,1121.16 L601.63,1119.47 L602.69,1117.77 L603.75,1116.08 L604.81,1114.38 L605.88,1112.69 L606.94,1110.99 L608.00,1109.30 L609.06,1107.60 L610.12,1105.90 L611.18,1104.21 L612.24,1102.51 L613.29,1100.81 L614.35,1099.12 L615.41,1097.42 L616.47,1095.72 L617.52,1094.02 L618.58,1092.32 L619.64,1090.62 L620.69,1088.93 L621.75,1087.23 L622.81,1085.53 L623.86,1083.83 L624.92,1082.13 L625.97,1080.43 L627.03,1078.73 L628.08,1077.03 L629.14,1075.33 L630.19,1073.63 L631.25,1071.93 L632.30,1070.23 L633.36,1068.53 L634.41,1066.83 L635.46,1065.13 L636.52,1063.43 L637.57,1061.73 L638.63,1060.03 L639.68,1058.33 L640.74,1056.62 L641.79,1054.92 L642.84,1053.22 L643.90,1051.52 L644.95,1049.82 L646.01,1048.12 L647.06,1046.42 L648.11,1044.72 L649.17,1043.02 L650.22,1041.31 L651.28,1039.61 L652.33,1037.91 L653.38,1036.21 L654.44,1034.51 L655.49,1032.81 L656.55,1031.11 L657.60,1029.40 L658.65,1027.70 L659.71,1026.00 L660.76,1024.30 L661.82,1022.60 L662.87,1020.90 L663.93,1019.20 L664.98,1017.49 L666.03,1015.79 L667.09,1014.09 L668.14,1012.39 L669.20,1010.69 L670.25,1008.99 L671.31,1007.29 L672.36,1005.58 L673.42,1003.88 L674.47,1002.18 L675.53,1000.48 L676.58,998.78 L677.64,997.08 L678.69,995.38 L679.75,993.68 L680.80,991.98 L681.86,990.28 L682.92,988.57 L683.97,986.87 L685.03,985.17 L686.09,983.47 L687.14,981.77 L688.20,980.07 L689.26,978.37 L690.31,976.67 L691.37,974.97 L692.43,973.27 L693.49,971.57 L694.54,969.87 L695.60,968.17 L696.66,966.47 L697.72,964.77 L698.78,963.07 L699.84,961.38 L700.90,959.68 L701.95,957.98 L703.01,956.28 L704.07,954.58 L705.13,952.88 L706.19,951.18 L707.25,949.49 L708.32,947.79 L709.38,946.09 L710.44,944.39 L711.50,942.70 L712.56,941.00 L713.62,939.30 L714.69,937.60 L715.75,935.91 L716.81,934.21 L717.87,932.51 L718.94,930.82 L720.00,929.12 L721.07,927.43 L722.13,925.73 L723.19,924.03 L724.26,922.34 L725.32,920.64 L726.39,918.95 L727.46,917.25 L728.52,915.56 L729.59,913.87 L730.65,912.17 L731.72,910.48 L732.79,908.78 L733.86,907.09 L734.92,905.40 L735.99,903.70 L737.06,902.01 L738.13,900.32 L739.20,898.62 L740.27,896.93 L741.34,895.24 L742.41,893.55 L743.48,891.85 L744.55,890.16 L745.62,888.47 L746.69,886.78 L747.76,885.09 L748.83,883.40 L749.90,881.71 L750.97,880.01 L752.04,878.32 L753.12,876.63 L754.19,874.94 L755.26,873.25 L756.34,871.56 L757.41,869.87 L758.48,868.18 L759.56,866.49 L760.63,864.80 L761.70,863.11 L762.78,861.43 L763.85,859.74 L764.93,858.05 L766.00,856.36 L767.08,854.67 L768.16,852.98 L769.23,851.30 L770.31,849.61 L771.39,847.92 L772.46,846.23 L773.54,844.54 L774.62,842.86 L775.70,841.17 L776.77,839.48 L777.85,837.80 L778.93,836.11 L780.01,834.42 L781.09,832.74 L782.17,831.05 L783.25,829.37 L784.33,827.68 L785.41,825.99 L786.49,824.31 L787.57,822.62 L788.65,820.94 L789.73,819.25 L790.81,817.57 L791.89,815.88 L792.97,814.20 L794.06,812.52 L795.14,810.83 L796.22,809.15 L797.30,807.46 L798.39,805.78 L799.47,804.10 L800.55,802.41 L801.64,800.73 L802.72,799.05 L803.80,797.36 L804.89,795.68 L805.97,794.00 L807.06,792.32 L808.14,790.63 L809.23,788.95 L810.31,787.27 L811.40,785.59 L812.49,783.90 L813.57,782.22 L814.66,780.54 L815.74,778.86 L816.83,777.18 L817.92,775.50 L819.01,773.82 L820.09,772.14 L821.18,770.46 L822.27,768.78 L823.36,767.10 L824.45,765.42 L825.53,763.74 L826.62,762.06 L827.71,760.38 L828.80,758.70 L829.89,757.02 L830.98,755.34 L832.07,753.66 L833.16,751.98 L834.25,750.30 L835.34,748.62 L836.43,746.94 L837.52,745.27 L838.62,743.59 L839.71,741.91 L840.80,740.23 L841.89,738.55 L842.98,736.88 L844.07,735.20 L845.17,733.52 L846.26,731.84 L847.35,730.17 L848.45,728.49 L849.54,726.81 L850.63,725.13 L851.73,723.46 L852.82,721.78 L853.92,720.11 L855.01,718.43 L856.10,716.75 L857.20,715.08 L858.29,713.40 L859.39,711.73 L860.48,710.05 L861.58,708.37 L862.68,706.70 L863.77,705.02 L864.87,703.35 L865.96,701.67 L867.06,700.00 L868.16,698.33 L869.26,696.65 L870.35,694.98 L871.45,693.30 L872.55,691.63 L873.64,689.95 L874.74,688.28 L875.84,686.61 L876.94,684.93 L878.04,683.26 L879.14,681.59 L880.24,679.91 L881.33,678.24 L882.43,676.57 L883.53,674.89 L884.63,673.22 L885.73,671.55 L886.83,669.88 L887.93,668.20 L889.03,666.53 L890.13,664.86 L891.23,663.19 L892.34,661.52 L893.44,659.84 L894.54,658.17 L895.64,656.50 L896.74,654.83 L897.84,653.16 L898.95,651.49 L900.05,649.82 L901.15,648.14 L902.25,646.47 L903.35,644.80 L904.46,643.13 L905.56,641.46 L906.66,639.79 L907.77,638.12 L908.87,636.45 L909.97,634.78 L911.08,633.11 L912.18,631.44 L913.29,629.77 L914.39,628.10 L915.50,626.43 L916.60,624.76 L917.71,623.09 L918.81,621.43 L919.92,619.76 L921.02,618.09 L922.13,616.42 L923.23,614.75 L924.34,613.08 L925.44,611.41 L926.55,609.74 L927.66,608.08 L928.76,606.41 L929.87,604.74 L930.98,603.07 L932.08,601.40 L933.19,599.74 L934.30,598.07 L935.41,596.40 L936.51,594.73 L937.62,593.07 L938.73,591.40 L939.84,589.73 L940.95,588.07 L942.05,586.40 L943.16,584.73 L944.27,583.07 L945.38,581.40 L946.49,579.73 L947.60,578.07 L948.71,576.40 L949.82,574.73 L950.93,573.07 L952.04,571.40 L953.15,569.74 L954.26,568.07 L955.37,566.41 L956.48,564.74 L957.59,563.07 L958.70,561.41 L959.81,559.74 L960.92,558.08 L962.03,556.41 L963.14,554.75 L964.25,553.08 L965.36,551.42 L966.48,549.75 L967.59,548.09 L968.70,546.43 L969.81,544.76 L970.92,543.10 L972.04,541.43 L973.15,539.77 L974.26,538.10 L975.37,536.44 L976.49,534.78 L977.60,533.11 L978.71,531.45 L979.83,529.79 L980.94,528.12 L982.05,526.46 L983.17,524.80 L984.28,523.13 L985.39,521.47 L986.51,519.81 L987.62,518.14 L988.74,516.48 L989.85,514.82 L990.96,513.15 L992.08,511.49 L993.19,509.83 L994.31,508.17 L995.42,506.50 L996.54,504.84 L997.65,503.18 L998.77,501.52 L999.88,499.86 L1001.00,498.19 L1002.11,496.53 L1003.23,494.87 L1004.35,493.21 L1005.46,491.55 L1006.58,489.89 L1007.69,488.22 L1008.81,486.56 L1009.93,484.90 L1011.04,483.24 L1012.16,481.58 L1013.28,479.92 L1014.39,478.26 L1015.51,476.60 L1016.63,474.94 L1017.74,473.28 L1018.86,471.61 L1019.98,469.95 L1021.10,468.29 L1022.21,466.63 L1023.33,464.97 L1024.45,463.31 L1025.57,461.65 L1026.69,459.99 L1027.80,458.33 L1028.92,456.67 L1030.04,455.01 L1031.16,453.35 L1032.28,451.69 L1033.40,450.03 L1034.51,448.37 L1035.63,446.71 L1036.75,445.05 L1037.87,443.39 L1038.99,441.74 L1040.11,440.08 L1041.23,438.42 L1042.35,436.76 L1043.47,435.10 L1044.59,433.44 L1045.71,431.78 L1046.83,430.12 L1047.95,428.46 L1049.06,426.80 L1050.18,425.15 L1051.30,423.49 L1052.42,421.83 L1053.55,420.17 L1054.67,418.51 L1055.79,416.85 L1056.91,415.19 L1058.03,413.54 L1059.15,411.88 L1060.27,410.22 L1061.39,408.56 L1062.51,406.90 L1063.63,405.25 L1064.75,403.59 L1065.87,401.93 L1066.99,400.27 L1068.11,398.62 L1069.24,396.96 L1070.36,395.30 L1071.48,393.64 L1072.60,391.99 L1073.72,390.33 L1074.84,388.67 L1075.97,387.01 L1077.09,385.36 L1078.21,383.70 L1079.33,382.04 L1080.45,380.38 L1081.58,378.73 L1082.70,377.07 L1083.82,375.41 L1084.94,373.76 L1086.07,372.10 L1087.19,370.45 L1088.33,368.80 L1089.46,367.16 L1090.60,365.52 L1091.75,363.88 L1092.91,362.25 L1094.08,360.64 L1095.25,359.03 L1096.44,357.42 L1097.64,355.83 L1098.86,354.26 L1100.09,352.69 L1101.33,351.14 L1102.59,349.60 L1103.87,348.07 L1105.17,346.57 L1106.49,345.08 L1107.83,343.60 L1109.20,342.15 L1110.59,340.72 L1112.03,339.31 L1113.51,337.93 L1115.04,336.58 L1116.63,335.26 L1118.28,333.97 L1120.01,332.72 L1121.79,331.56 L1123.60,330.58 L1125.43,329.87 L1127.25,329.53 L1129.03,329.64 L1130.76,330.18 L1132.41,331.10 L1133.96,332.33 L1135.39,333.82 L1136.68,335.51 L1137.81,337.33 L1138.76,339.23 L1139.52,341.17 L1140.13,343.13 L1140.62,345.10 L1141.05,347.08 L1141.45,349.06 L1141.84,351.03 L1142.23,353.00 L1142.61,354.96 L1142.98,356.92 L1143.34,358.88 L1143.70,360.84 L1144.05,362.79 L1144.39,364.75 L1144.74,366.70 L1145.07,368.66 L1145.40,370.61 L1145.73,372.57 L1146.06,374.53 L1146.38,376.50 L1146.69,378.46 L1147.01,380.43 L1147.31,382.40 L1147.62,384.37 L1147.92,386.34 L1148.22,388.31 L1148.52,390.29 L1148.81,392.26 L1149.10,394.24 L1149.38,396.22 L1149.66,398.20 L1149.94,400.18 L1150.22,402.17 L1150.49,404.15 L1150.76,406.13 L1151.03,408.12 L1151.30,410.11 L1151.56,412.09 L1151.82,414.08 L1152.08,416.07 L1152.34,418.06 L1152.59,420.05 L1152.84,422.04 L1153.09,424.03 L1153.34,426.02 L1153.59,428.02 L1153.83,430.01 L1154.07,432.00 L1154.32,433.99 L1154.56,435.98 L1154.79,437.97 L1155.03,439.97 L1155.27,441.96 L1155.50,443.95 L1155.73,445.94 L1155.96,447.93 L1156.20,449.92 L1156.43,451.91 L1156.66,453.90 L1156.88,455.89 L1157.11,457.87 L1157.34,459.86 L1157.57,461.85 L1157.79,463.84 L1158.02,465.83 L1158.24,467.81 L1158.47,469.80 L1158.69,471.79 L1158.92,473.77 L1159.14,475.76 L1159.37,477.75 L1159.59,479.73 L1159.82,481.72 L1160.04,483.71 L1160.27,485.69 L1160.49,487.68 L1160.72,489.67 L1160.95,491.65 L1161.17,493.64 L1161.40,495.62 L1161.63,497.61 L1161.86,499.60 L1162.09,501.59 L1162.32,503.57 L1162.56,505.56 L1162.79,507.55 L1163.02,509.53 L1163.26,511.52 L1163.50,513.51 L1163.74,515.50 L1163.98,517.49 L1164.22,519.48 L1164.46,521.47 L1164.71,523.45 L1164.96,525.44 L1165.21,527.43 L1165.47,529.42 L1165.73,531.41 L1165.99,533.39 L1166.26,535.38 L1166.53,537.36 L1166.81,539.35 L1167.09,541.33 L1167.38,543.31 L1167.68,545.29 L1167.98,547.26 L1168.28,549.24 L1168.60,551.21 L1168.92,553.19 L1169.25,555.16 L1169.58,557.12 L1169.93,559.09 L1170.28,561.05 L1170.64,563.01 L1171.01,564.97 L1171.39,566.92 L1171.78,568.88 L1172.18,570.82 L1172.59,572.77 L1173.01,574.71 L1173.45,576.65 L1173.89,578.59 L1174.34,580.52 L1174.81,582.44 L1175.29,584.37 L1175.78,586.29 L1176.28,588.20 L1176.80,590.11 L1177.33,592.02 L1177.90,593.94 L1178.50,595.88 L1179.16,597.85 L1179.89,599.87 L1180.69,601.93 L1181.60,603.97 L1182.61,605.91 L1183.76,607.67 L1185.04,609.16 L1186.48,610.29 L1188.09,611.01 L1189.83,611.35 L1191.68,611.35 L1193.59,611.07 L1195.55,610.56 L1197.50,609.85 L1199.43,609.00 L1201.29,608.06 L1203.09,607.05 L1204.81,605.96 L1206.48,604.81 L1208.08,603.59 L1209.64,602.32 L1211.14,601.00 L1212.60,599.63 L1214.02,598.21 L1215.39,596.76 L1216.74,595.27 L1218.06,593.75 L1219.35,592.21 L1220.62,590.65 L1221.87,589.07 L1223.11,587.47 L1224.35,585.88 L1225.57,584.27 L1226.80,582.67 L1228.02,581.07 L1229.24,579.47 L1230.46,577.87 L1231.67,576.27 L1232.89,574.66 L1234.10,573.06 L1235.31,571.46 L1236.51,569.85 L1237.72,568.25 L1238.92,566.64 L1240.12,565.04 L1241.31,563.43 L1242.51,561.83 L1243.70,560.22 L1244.89,558.61 L1246.08,557.00 L1247.27,555.39 L1248.45,553.78 L1249.63,552.17 L1250.81,550.56 L1251.99,548.94 L1253.16,547.33 L1254.34,545.71 L1255.51,544.10 L1256.68,542.48 L1257.84,540.86 L1259.01,539.24 L1260.17,537.62 L1261.33,535.99 L1262.49,534.37 L1263.65,532.74 L1264.80,531.11 L1265.95,529.49 L1267.10,527.85 L1268.25,526.22 L1269.40,524.59 L1270.54,522.95 L1271.68,521.32 L1272.82,519.68 L1273.96,518.04 L1275.10,516.39 L1276.23,514.75 L1277.37,513.10 L1278.50,511.46 L1279.63,509.81 L1280.76,508.16 L1281.89,506.51 L1283.01,504.85 L1284.14,503.20 L1285.26,501.55 L1286.39,499.89 L1287.51,498.24 L1288.63,496.58 L1289.75,494.92 L1290.88,493.26 L1292.00,491.61 L1293.12,489.95 L1294.24,488.29 L1295.36,486.63 L1296.48,484.97 L1297.60,483.31 L1298.72,481.65 L1299.85,479.99 L1300.97,478.33 L1302.09,476.67 L1303.21,475.01 L1304.34,473.35 L1305.46,471.69 L1306.59,470.03 L1307.72,468.37 L1308.84,466.71 L1309.97,465.06 L1311.10,463.40 L1312.24,461.74 L1313.37,460.09 L1314.51,458.44 L1315.64,456.78 L1316.78,455.13 L1317.92,453.48 L1319.07,451.83 L1320.21,450.19 L1321.36,448.54 L1322.51,446.90 L1323.66,445.25 L1324.82,443.62 L1325.97,441.98 L1327.13,440.34 L1328.30,438.71 L1329.46,437.08 L1330.63,435.46 L1331.81,433.84 L1332.98,432.22 L1334.16,430.60 L1335.35,428.99 L1336.53,427.38 L1337.72,425.78 L1338.92,424.18 L1340.12,422.59 L1341.32,421.00 L1342.53,419.41 L1343.74,417.83 L1344.96,416.26 L1346.18,414.69 L1347.41,413.12 L1348.64,411.56 L1349.87,410.01 L1351.11,408.46 L1352.36,406.92 L1353.61,405.39 L1354.87,403.86 L1356.13,402.34 L1357.40,400.82 L1358.67,399.31 L1359.95,397.81 L1361.23,396.32 L1362.53,394.83 L1363.84,393.35 L1365.18,391.88 L1366.55,390.42 L1367.96,388.97 L1369.41,387.53 L1370.92,386.09 L1372.49,384.67 L1374.13,383.26 L1375.85,381.86 L1377.62,380.52 L1379.44,379.29 L1381.26,378.24 L1383.08,377.43 L1384.85,376.91 L1386.58,376.71 L1388.26,376.80 L1389.89,377.16 L1391.47,377.77 L1392.99,378.61 L1394.45,379.66 L1395.86,380.89 L1397.21,382.28 L1398.50,383.82 L1399.73,385.48 L1400.90,387.25 L1402.01,389.09 L1403.05,390.99 L1404.02,392.93 L1404.93,394.89 L1405.76,396.84 L1406.54,398.79 L1407.25,400.74 L1407.91,402.68 L1408.51,404.62 L1409.07,406.56 L1409.59,408.49 L1410.08,410.42 L1410.53,412.36 L1410.95,414.29 L1411.35,416.22 L1411.73,418.15 L1412.10,420.08 L1412.46,422.01 L1412.82,423.94 L1413.17,425.88 L1413.53,427.82 L1413.90,429.76 L1414.29,431.71 L1414.69,433.66 L1415.10,435.61 L1415.53,437.57 L1415.97,439.53 L1416.42,441.49 L1416.88,443.45 L1417.34,445.42 L1417.81,447.38 L1418.28,449.35 L1418.75,451.32 L1419.22,453.29 L1419.69,455.25 L1420.15,457.22 L1420.61,459.19 L1421.06,461.15 L1421.49,463.11 L1421.92,465.08 L1422.33,467.03 L1422.73,468.99 L1423.11,470.95 L1423.49,472.90 L1423.86,474.85 L1424.21,476.81 L1424.57,478.76 L1424.91,480.71 L1425.25,482.67 L1425.59,484.62 L1425.92,486.58 L1426.25,488.54 L1426.59,490.50 L1426.92,492.47 L1427.25,494.44 L1427.59,496.41 L1427.93,498.39 L1428.28,500.37 L1428.63,502.35 L1428.99,504.34 L1429.36,506.34 L1429.73,508.33 L1430.11,510.32 L1430.51,512.31 L1430.91,514.30 L1431.32,516.29 L1431.74,518.27 L1432.17,520.24 L1432.61,522.21 L1433.06,524.16 L1433.53,526.11 L1434.00,528.04 L1434.49,529.97 L1435.00,531.88 L1435.52,533.77 L1436.05,535.65 L1436.60,537.51 L1437.16,539.36 L1437.73,541.20 L1438.31,543.05 L1438.89,544.90 L1439.48,546.77 L1440.08,548.65 L1440.68,550.55 L1441.27,552.48 L1441.87,554.44 L1442.46,556.44 L1443.07,558.46 L1443.70,560.48 L1444.38,562.49 L1445.12,564.46 L1445.94,566.38 L1446.85,568.23 L1447.88,569.99 L1449.03,571.64 L1450.34,573.17 L1451.80,574.55 L1453.42,575.76 L1455.16,576.80 L1456.99,577.65 L1458.90,578.30 L1460.84,578.72 L1462.80,578.91 L1464.74,578.85 L1466.64,578.53 L1468.47,577.94 L1470.24,577.11 L1471.94,576.07 L1473.60,574.87 L1475.21,573.54 L1476.79,572.13 L1478.34,570.66 L1479.86,569.18 L1481.37,567.69 L1482.85,566.21 L1484.32,564.72 L1485.77,563.24 L1487.21,561.75 L1488.63,560.26 L1490.04,558.78 L1491.43,557.29 L1492.80,555.80 L1494.17,554.31 L1495.52,552.82 L1496.86,551.33 L1498.19,549.83 L1499.50,548.34 L1500.81,546.85 L1502.11,545.35 L1503.40,543.86 L1504.68,542.36 L1505.96,540.86 L1507.23,539.36 L1508.49,537.86 L1509.74,536.36 L1511.00,534.86 L1512.25,533.36 L1513.49,531.85 L1514.73,530.35 L1515.97,528.84 L1517.21,527.34 L1518.45,525.83 L1519.69,524.32 L1520.93,522.81 L1522.17,521.30 L1523.41,519.78 L1524.65,518.27 L1525.90,516.75 L1527.15,515.24 L1528.41,513.72 L1529.67,512.20 L1530.93,510.68 L1532.20,509.16 L1533.47,507.63 L1534.74,506.11 L1536.02,504.58 L1537.30,503.05 L1538.58,501.52 L1539.86,499.99 L1541.15,498.46 L1542.43,496.93 L1543.72,495.39 L1545.02,493.85 L1546.31,492.31 L1547.60,490.77 L1548.90,489.22 L1550.19,487.68 L1551.49,486.13 L1552.78,484.58 L1554.08,483.03 L1555.38,481.47 L1556.67,479.91 L1557.97,478.36 L1559.26,476.79 L1560.56,475.23 L1561.85,473.66 L1563.14,472.09 L1564.43,470.52 L1565.72,468.95 L1567.01,467.37 L1568.30,465.79 L1569.58,464.21 L1570.86,462.63 L1572.14,461.04 L1573.42,459.45 L1574.69,457.86 L1575.97,456.28 L1577.25,454.70 L1578.53,453.12 L1579.82,451.56 L1581.12,450.02 L1582.43,448.49 L1583.75,446.98 L1585.08,445.49 L1586.43,444.03 L1587.80,442.59 L1589.18,441.19 L1590.58,439.82 L1592.01,438.49 L1593.46,437.20 L1594.94,435.95 L1596.44,434.74 L1597.97,433.58 L1599.54,432.48 L1601.13,431.42 L1602.77,430.42 L1604.43,429.49 L1606.14,428.61 L1607.89,427.80 L1609.67,427.05 L1611.51,426.38 L1613.38,425.78 L1615.31,425.25 L1617.28,424.81 L1619.30,424.44 L1621.38,424.16 L1623.51,423.97"/>
</g>
<g fill="#000" shape-rendering="crispEdges">
<rect x="301" y="49" width="6" height="1334"/>
<rect x="1950" y="49" width="6" height="1334"/>
<rect x="301" y="49" width="1655" height="6"/>
<rect x="301" y="1378" width="1655" height="5"/>
<rect x="307" y="253" width="23" height="6"/>
<rect x="307" y="458" width="23" height="6"/>
<rect x="307" y="662" width="23" height="6"/>
<rect x="307" y="867" width="23" height="6"/>
<rect x="307" y="1071" width="23" height="6"/>
<rect x="307" y="1275" width="23" height="6"/>
<rect x="1927" y="1188" width="23" height="6"/>
<rect x="1927" y="998" width="23" height="6"/>
<rect x="1927" y="808" width="23" height="6"/>
<rect x="1927" y="618" width="23" height="6"/>
<rect x="1927" y="429" width="23" height="6"/>
<rect x="1927" y="239" width="23" height="6"/>
<rect x="631" y="1354" width="6" height="24"/>
<rect x="961" y="1354" width="6" height="24"/>
<rect x="1290" y="1354" width="6" height="24"/>
<rect x="1620" y="1354" width="6" height="24"/>
</g>
<g shape-rendering="crispEdges">
<rect x="683" y="82" width="1260" height="162" fill="none" stroke="#000" stroke-width="2"/>
<rect x="691" y="124" width="127" height="7" fill="#000"/>
<rect x="691" y="201" width="127" height="7" fill="#f00"/>
</g>
<rect x="1927" y="239" width="23" height="6" fill="#000" shape-rendering="crispEdges"/>
<text y="150.00" font-size="73.00" xml:space="preserve"><tspan x="852.30" textLength="36.11" lengthAdjust="spacingAndGlyphs" stroke-width="1.7">A</tspan><tspan x="891.73" textLength="29.17" lengthAdjust="spacingAndGlyphs" stroke-width="0.2">r</tspan><tspan x="923.42" textLength="38.01" lengthAdjust="spacingAndGlyphs" font-weight="bold" stroke-width="0.3">m</tspan><tspan x="961.10" textLength="36.74" lengthAdjust="spacingAndGlyphs">a</tspan><tspan x="1002.80" textLength="24.34" lengthAdjust="spacingAndGlyphs" stroke-width="0.2">t</tspan><tspan x="1034.24" textLength="35.11" lengthAdjust="spacingAndGlyphs">u</tspan><tspan x="1072.23" textLength="29.17" lengthAdjust="spacingAndGlyphs" stroke-width="0.2">r</tspan><tspan x="1106.47" textLength="34.42" lengthAdjust="spacingAndGlyphs">e</tspan><tspan x="1141.20"> </tspan><tspan x="1178.67" textLength="34.42" lengthAdjust="spacingAndGlyphs">e</tspan><tspan x="1220.27" textLength="24.34" lengthAdjust="spacingAndGlyphs" stroke-width="0.2">l</tspan><tspan x="1250.87" textLength="34.42" lengthAdjust="spacingAndGlyphs">e</tspan><tspan x="1286.91" textLength="33.73" lengthAdjust="spacingAndGlyphs">c</tspan><tspan x="1327.70" textLength="24.34" lengthAdjust="spacingAndGlyphs" stroke-width="0.2">t</tspan><tspan x="1361.03" textLength="29.17" lengthAdjust="spacingAndGlyphs" stroke-width="0.2">r</tspan><tspan x="1394.68" textLength="35.73" lengthAdjust="spacingAndGlyphs">o</tspan><tspan x="1428.82" textLength="38.01" lengthAdjust="spacingAndGlyphs" font-weight="bold" stroke-width="0.3">m</tspan><tspan x="1466.50" textLength="36.74" lengthAdjust="spacingAndGlyphs">a</tspan><tspan x="1503.76" textLength="35.39" lengthAdjust="spacingAndGlyphs">g</tspan><tspan x="1539.16" textLength="35.71" lengthAdjust="spacingAndGlyphs">n</tspan><tspan x="1575.77" textLength="34.42" lengthAdjust="spacingAndGlyphs">e</tspan><tspan x="1616.50" textLength="24.34" lengthAdjust="spacingAndGlyphs" stroke-width="0.2">t</tspan><tspan x="1652.69" textLength="24.34" lengthAdjust="spacingAndGlyphs" stroke-width="0.2">i</tspan><tspan x="1684.01" textLength="33.73" lengthAdjust="spacingAndGlyphs">c</tspan><tspan x="1718.80"> </tspan><tspan x="1758.11" textLength="29.17" lengthAdjust="spacingAndGlyphs" stroke-width="0.2">f</tspan><tspan x="1791.78" textLength="35.73" lengthAdjust="spacingAndGlyphs">o</tspan><tspan x="1830.33" textLength="29.17" lengthAdjust="spacingAndGlyphs" stroke-width="0.2">r</tspan><tspan x="1864.51" textLength="33.73" lengthAdjust="spacingAndGlyphs">c</tspan><tspan x="1900.67" textLength="34.42" lengthAdjust="spacingAndGlyphs">e</tspan></text>
<text y="227.00" font-size="73.00" xml:space="preserve"><tspan x="852.30" textLength="36.11" lengthAdjust="spacingAndGlyphs" stroke-width="1.7">A</tspan><tspan x="891.73" textLength="29.17" lengthAdjust="spacingAndGlyphs" stroke-width="0.2">r</tspan><tspan x="923.42" textLength="38.01" lengthAdjust="spacingAndGlyphs" font-weight="bold" stroke-width="0.3">m</tspan><tspan x="961.10" textLength="36.74" lengthAdjust="spacingAndGlyphs">a</tspan><tspan x="1002.80" textLength="24.34" lengthAdjust="spacingAndGlyphs" stroke-width="0.2">t</tspan><tspan x="1034.24" textLength="35.11" lengthAdjust="spacingAndGlyphs">u</tspan><tspan x="1072.23" textLength="29.17" lengthAdjust="spacingAndGlyphs" stroke-width="0.2">r</tspan><tspan x="1106.47" textLength="34.42" lengthAdjust="spacingAndGlyphs">e</tspan><tspan x="1141.20"> </tspan><tspan x="1176.12" textLength="38.01" lengthAdjust="spacingAndGlyphs" font-weight="bold" stroke-width="0.3">m</tspan><tspan x="1214.18" textLength="35.73" lengthAdjust="spacingAndGlyphs">o</tspan><tspan x="1252.60" textLength="31.00" lengthAdjust="spacingAndGlyphs" stroke-width="0.9">v</tspan><tspan x="1286.97" textLength="34.42" lengthAdjust="spacingAndGlyphs">e</tspan><tspan x="1320.52" textLength="38.01" lengthAdjust="spacingAndGlyphs" font-weight="bold" stroke-width="0.3">m</tspan><tspan x="1359.17" textLength="34.42" lengthAdjust="spacingAndGlyphs">e</tspan><tspan x="1394.76" textLength="35.71" lengthAdjust="spacingAndGlyphs">n</tspan><tspan x="1436.00" textLength="24.34" lengthAdjust="spacingAndGlyphs" stroke-width="0.2">t</tspan><tspan x="1466.10"> </tspan><tspan x="1505.30" textLength="31.00" lengthAdjust="spacingAndGlyphs" stroke-width="0.9">v</tspan><tspan x="1539.67" textLength="34.42" lengthAdjust="spacingAndGlyphs">e</tspan><tspan x="1581.27" textLength="24.34" lengthAdjust="spacingAndGlyphs" stroke-width="0.2">l</tspan><tspan x="1611.28" textLength="35.73" lengthAdjust="spacingAndGlyphs">o</tspan><tspan x="1647.91" textLength="33.73" lengthAdjust="spacingAndGlyphs">c</tspan><tspan x="1688.79" textLength="24.34" lengthAdjust="spacingAndGlyphs" stroke-width="0.2">i</tspan><tspan x="1724.80" textLength="24.34" lengthAdjust="spacingAndGlyphs" stroke-width="0.2">t</tspan><tspan x="1757.33" textLength="32.02" lengthAdjust="spacingAndGlyphs" stroke-width="0.9">y</tspan></text>
<text y="1554.00" font-size="71.50" xml:space="preserve"><tspan x="973.45" textLength="34.94" lengthAdjust="spacingAndGlyphs" stroke-width="1.0">T</tspan><tspan x="1014.58" textLength="23.84" lengthAdjust="spacingAndGlyphs" stroke-width="0.2">i</tspan><tspan x="1042.84" textLength="37.27" lengthAdjust="spacingAndGlyphs" font-weight="bold" stroke-width="0.3">m</tspan><tspan x="1080.75" textLength="33.76" lengthAdjust="spacingAndGlyphs">e</tspan><tspan x="1126.01" dy="-6.45" textLength="22.74" lengthAdjust="spacingAndGlyphs">(</tspan><tspan x="1149.04" dy="6.45" textLength="37.27" lengthAdjust="spacingAndGlyphs" font-weight="bold" stroke-width="0.3">m</tspan><tspan x="1186.89" textLength="32.42" lengthAdjust="spacingAndGlyphs">s</tspan><tspan x="1220.30" dy="-6.45" textLength="23.63" lengthAdjust="spacingAndGlyphs">)</tspan></text>
<text y="0.00" font-size="71.50" transform="translate(108.4,1318) rotate(-90)" xml:space="preserve"><tspan x="-0.10" textLength="35.41" lengthAdjust="spacingAndGlyphs" stroke-width="1.7">A</tspan><tspan x="38.59" textLength="28.57" lengthAdjust="spacingAndGlyphs" stroke-width="0.2">r</tspan><tspan x="69.64" textLength="37.27" lengthAdjust="spacingAndGlyphs" font-weight="bold" stroke-width="0.3">m</tspan><tspan x="106.59" textLength="36.03" lengthAdjust="spacingAndGlyphs">a</tspan><tspan x="147.50" textLength="23.84" lengthAdjust="spacingAndGlyphs" stroke-width="0.2">t</tspan><tspan x="178.31" textLength="34.43" lengthAdjust="spacingAndGlyphs">u</tspan><tspan x="215.59" textLength="28.57" lengthAdjust="spacingAndGlyphs" stroke-width="0.2">r</tspan><tspan x="249.15" textLength="33.76" lengthAdjust="spacingAndGlyphs">e</tspan><tspan x="283.20"> </tspan><tspan x="319.95" textLength="33.76" lengthAdjust="spacingAndGlyphs">e</tspan><tspan x="360.75" textLength="23.84" lengthAdjust="spacingAndGlyphs" stroke-width="0.2">l</tspan><tspan x="390.75" textLength="33.76" lengthAdjust="spacingAndGlyphs">e</tspan><tspan x="426.09" textLength="33.07" lengthAdjust="spacingAndGlyphs">c</tspan><tspan x="466.10" textLength="23.84" lengthAdjust="spacingAndGlyphs" stroke-width="0.2">t</tspan><tspan x="498.79" textLength="28.57" lengthAdjust="spacingAndGlyphs" stroke-width="0.2">r</tspan><tspan x="531.77" textLength="35.04" lengthAdjust="spacingAndGlyphs">o</tspan><tspan x="565.24" textLength="37.27" lengthAdjust="spacingAndGlyphs" font-weight="bold" stroke-width="0.3">m</tspan><tspan x="602.19" textLength="36.03" lengthAdjust="spacingAndGlyphs">a</tspan><tspan x="638.73" textLength="34.70" lengthAdjust="spacingAndGlyphs">g</tspan><tspan x="673.44" textLength="35.02" lengthAdjust="spacingAndGlyphs">n</tspan><tspan x="709.35" textLength="33.76" lengthAdjust="spacingAndGlyphs">e</tspan><tspan x="749.30" textLength="23.84" lengthAdjust="spacingAndGlyphs" stroke-width="0.2">t</tspan><tspan x="784.78" textLength="23.84" lengthAdjust="spacingAndGlyphs" stroke-width="0.2">i</tspan><tspan x="815.49" textLength="33.07" lengthAdjust="spacingAndGlyphs">c</tspan><tspan x="849.60"> </tspan><tspan x="888.16" textLength="28.57" lengthAdjust="spacingAndGlyphs" stroke-width="0.2">f</tspan><tspan x="921.17" textLength="35.04" lengthAdjust="spacingAndGlyphs">o</tspan><tspan x="958.99" textLength="28.57" lengthAdjust="spacingAndGlyphs" stroke-width="0.2">r</tspan><tspan x="992.49" textLength="33.07" lengthAdjust="spacingAndGlyphs">c</tspan><tspan x="1027.95" textLength="33.76" lengthAdjust="spacingAndGlyphs">e</tspan><tspan x="1073.21" dy="-6.45" textLength="22.74" lengthAdjust="spacingAndGlyphs">(</tspan><tspan x="1097.57" dy="6.45" textLength="34.15" lengthAdjust="spacingAndGlyphs" stroke-width="0.9">k</tspan><tspan x="1131.59" textLength="37.52" lengthAdjust="spacingAndGlyphs" stroke-width="1.4">N</tspan><tspan x="1167.50" dy="-6.45" textLength="23.63" lengthAdjust="spacingAndGlyphs">)</tspan></text>
<text y="0.00" font-size="71.50" transform="translate(2152,1248) rotate(-90)" xml:space="preserve"><tspan x="-0.10" textLength="35.41" lengthAdjust="spacingAndGlyphs" stroke-width="1.7">A</tspan><tspan x="38.59" textLength="28.57" lengthAdjust="spacingAndGlyphs" stroke-width="0.2">r</tspan><tspan x="69.64" textLength="37.27" lengthAdjust="spacingAndGlyphs" font-weight="bold" stroke-width="0.3">m</tspan><tspan x="106.59" textLength="36.03" lengthAdjust="spacingAndGlyphs">a</tspan><tspan x="147.50" textLength="23.84" lengthAdjust="spacingAndGlyphs" stroke-width="0.2">t</tspan><tspan x="178.31" textLength="34.43" lengthAdjust="spacingAndGlyphs">u</tspan><tspan x="215.59" textLength="28.57" lengthAdjust="spacingAndGlyphs" stroke-width="0.2">r</tspan><tspan x="249.15" textLength="33.76" lengthAdjust="spacingAndGlyphs">e</tspan><tspan x="283.20"> </tspan><tspan x="317.44" textLength="37.27" lengthAdjust="spacingAndGlyphs" font-weight="bold" stroke-width="0.3">m</tspan><tspan x="354.77" textLength="35.04" lengthAdjust="spacingAndGlyphs">o</tspan><tspan x="392.44" textLength="30.40" lengthAdjust="spacingAndGlyphs" stroke-width="0.9">v</tspan><tspan x="426.15" textLength="33.76" lengthAdjust="spacingAndGlyphs">e</tspan><tspan x="459.04" textLength="37.27" lengthAdjust="spacingAndGlyphs" font-weight="bold" stroke-width="0.3">m</tspan><tspan x="496.95" textLength="33.76" lengthAdjust="spacingAndGlyphs">e</tspan><tspan x="531.84" textLength="35.02" lengthAdjust="spacingAndGlyphs">n</tspan><tspan x="572.30" textLength="23.84" lengthAdjust="spacingAndGlyphs" stroke-width="0.2">t</tspan><tspan x="601.80"> </tspan><tspan x="640.24" textLength="30.40" lengthAdjust="spacingAndGlyphs" stroke-width="0.9">v</tspan><tspan x="673.95" textLength="33.76" lengthAdjust="spacingAndGlyphs">e</tspan><tspan x="714.75" textLength="23.84" lengthAdjust="spacingAndGlyphs" stroke-width="0.2">l</tspan><tspan x="744.17" textLength="35.04" lengthAdjust="spacingAndGlyphs">o</tspan><tspan x="780.09" textLength="33.07" lengthAdjust="spacingAndGlyphs">c</tspan><tspan x="820.18" textLength="23.84" lengthAdjust="spacingAndGlyphs" stroke-width="0.2">i</tspan><tspan x="855.50" textLength="23.84" lengthAdjust="spacingAndGlyphs" stroke-width="0.2">t</tspan><tspan x="887.38" textLength="31.40" lengthAdjust="spacingAndGlyphs" stroke-width="0.9">y</tspan><tspan x="931.61" dy="-6.45" textLength="22.74" lengthAdjust="spacingAndGlyphs">(</tspan><tspan x="954.64" dy="6.45" textLength="37.27" lengthAdjust="spacingAndGlyphs" font-weight="bold" stroke-width="0.3">m</tspan><tspan x="994.04" dy="4.97" textLength="29.69" lengthAdjust="spacingAndGlyphs" font-size="89.38">/</tspan><tspan x="1027.89" dy="-4.97" textLength="32.42" lengthAdjust="spacingAndGlyphs">s</tspan><tspan x="1061.30" dy="-6.45" textLength="23.63" lengthAdjust="spacingAndGlyphs">)</tspan></text>
<text y="1463.60" font-size="67.50" stroke-width="0.9"><tspan x="255.52" textLength="32.06" lengthAdjust="spacingAndGlyphs">0</tspan><tspan x="287.25" textLength="19.41" lengthAdjust="spacingAndGlyphs">.</tspan><tspan x="320.42" textLength="32.06" lengthAdjust="spacingAndGlyphs">0</tspan></text>
<text y="1463.60" font-size="67.50" stroke-width="0.9"><tspan x="585.32" textLength="32.06" lengthAdjust="spacingAndGlyphs">0</tspan><tspan x="617.05" textLength="19.41" lengthAdjust="spacingAndGlyphs">.</tspan><tspan x="649.61" textLength="32.06" lengthAdjust="spacingAndGlyphs">5</tspan></text>
<text y="1463.60" font-size="67.50" stroke-width="0.9"><tspan x="914.22" textLength="32.06" lengthAdjust="spacingAndGlyphs">1</tspan><tspan x="946.85" textLength="19.41" lengthAdjust="spacingAndGlyphs">.</tspan><tspan x="980.02" textLength="32.06" lengthAdjust="spacingAndGlyphs">0</tspan></text>
<text y="1463.60" font-size="67.50" stroke-width="0.9"><tspan x="1244.02" textLength="32.06" lengthAdjust="spacingAndGlyphs">1</tspan><tspan x="1276.65" textLength="19.41" lengthAdjust="spacingAndGlyphs">.</tspan><tspan x="1309.21" textLength="32.06" lengthAdjust="spacingAndGlyphs">5</tspan></text>
<text y="1463.60" font-size="67.50" stroke-width="0.9"><tspan x="1575.07" textLength="32.06" lengthAdjust="spacingAndGlyphs">2</tspan><tspan x="1606.45" textLength="19.41" lengthAdjust="spacingAndGlyphs">.</tspan><tspan x="1639.62" textLength="32.06" lengthAdjust="spacingAndGlyphs">0</tspan></text>
<text y="1463.60" font-size="67.50" stroke-width="0.9"><tspan x="1904.87" textLength="32.06" lengthAdjust="spacingAndGlyphs">2</tspan><tspan x="1936.25" textLength="19.41" lengthAdjust="spacingAndGlyphs">.</tspan><tspan x="1968.81" textLength="32.06" lengthAdjust="spacingAndGlyphs">5</tspan></text>
<text y="77.70" font-size="67.50" stroke-width="0.9"><tspan x="178.70" textLength="32.06" lengthAdjust="spacingAndGlyphs">2</tspan><tspan x="210.79" textLength="32.06" lengthAdjust="spacingAndGlyphs">0</tspan><tspan x="243.24" textLength="32.06" lengthAdjust="spacingAndGlyphs">0</tspan></text>
<text y="282.08" font-size="67.50" stroke-width="0.9"><tspan x="177.45" textLength="32.06" lengthAdjust="spacingAndGlyphs">1</tspan><tspan x="210.79" textLength="32.06" lengthAdjust="spacingAndGlyphs">0</tspan><tspan x="243.24" textLength="32.06" lengthAdjust="spacingAndGlyphs">0</tspan></text>
<text y="486.47" font-size="67.50" stroke-width="0.9"><tspan x="243.24" textLength="32.06" lengthAdjust="spacingAndGlyphs">0</tspan></text>
<text y="690.85" font-size="67.50" stroke-width="0.9"><tspan x="142.66" dy="-13.55" font-size="38.0" stroke-width="0" textLength="38.42" lengthAdjust="spacingAndGlyphs">-</tspan><tspan x="177.45" dy="13.55" textLength="32.06" lengthAdjust="spacingAndGlyphs">1</tspan><tspan x="210.79" textLength="32.06" lengthAdjust="spacingAndGlyphs">0</tspan><tspan x="243.24" textLength="32.06" lengthAdjust="spacingAndGlyphs">0</tspan></text>
<text y="895.24" font-size="67.50" stroke-width="0.9"><tspan x="142.66" dy="-13.55" font-size="38.0" stroke-width="0" textLength="38.42" lengthAdjust="spacingAndGlyphs">-</tspan><tspan x="178.70" dy="13.55" textLength="32.06" lengthAdjust="spacingAndGlyphs">2</tspan><tspan x="210.79" textLength="32.06" lengthAdjust="spacingAndGlyphs">0</tspan><tspan x="243.24" textLength="32.06" lengthAdjust="spacingAndGlyphs">0</tspan></text>
<text y="1099.62" font-size="67.50" stroke-width="0.9"><tspan x="142.66" dy="-13.55" font-size="38.0" stroke-width="0" textLength="38.42" lengthAdjust="spacingAndGlyphs">-</tspan><tspan x="178.06" dy="13.55" textLength="32.06" lengthAdjust="spacingAndGlyphs">3</tspan><tspan x="210.79" textLength="32.06" lengthAdjust="spacingAndGlyphs">0</tspan><tspan x="243.24" textLength="32.06" lengthAdjust="spacingAndGlyphs">0</tspan></text>
<text y="1304.01" font-size="67.50" stroke-width="0.9"><tspan x="142.66" dy="-13.55" font-size="38.0" stroke-width="0" textLength="38.42" lengthAdjust="spacingAndGlyphs">-</tspan><tspan x="178.22" dy="13.55" textLength="32.06" lengthAdjust="spacingAndGlyphs">4</tspan><tspan x="210.79" textLength="32.06" lengthAdjust="spacingAndGlyphs">0</tspan><tspan x="243.24" textLength="32.06" lengthAdjust="spacingAndGlyphs">0</tspan></text>
<text y="78.20" font-size="67.50" stroke-width="0.9"><tspan x="1980.51" textLength="32.06" lengthAdjust="spacingAndGlyphs">7</tspan><tspan x="2014.14" textLength="32.06" lengthAdjust="spacingAndGlyphs">0</tspan><tspan x="2046.59" textLength="32.06" lengthAdjust="spacingAndGlyphs">0</tspan></text>
<text y="267.99" font-size="67.50" stroke-width="0.9"><tspan x="1981.28" textLength="32.06" lengthAdjust="spacingAndGlyphs">6</tspan><tspan x="2014.14" textLength="32.06" lengthAdjust="spacingAndGlyphs">0</tspan><tspan x="2046.59" textLength="32.06" lengthAdjust="spacingAndGlyphs">0</tspan></text>
<text y="457.77" font-size="67.50" stroke-width="0.9"><tspan x="1981.08" textLength="32.06" lengthAdjust="spacingAndGlyphs">5</tspan><tspan x="2014.14" textLength="32.06" lengthAdjust="spacingAndGlyphs">0</tspan><tspan x="2046.59" textLength="32.06" lengthAdjust="spacingAndGlyphs">0</tspan></text>
<text y="647.56" font-size="67.50" stroke-width="0.9"><tspan x="1981.57" textLength="32.06" lengthAdjust="spacingAndGlyphs">4</tspan><tspan x="2014.14" textLength="32.06" lengthAdjust="spacingAndGlyphs">0</tspan><tspan x="2046.59" textLength="32.06" lengthAdjust="spacingAndGlyphs">0</tspan></text>
<text y="837.34" font-size="67.50" stroke-width="0.9"><tspan x="1981.41" textLength="32.06" lengthAdjust="spacingAndGlyphs">3</tspan><tspan x="2014.14" textLength="32.06" lengthAdjust="spacingAndGlyphs">0</tspan><tspan x="2046.59" textLength="32.06" lengthAdjust="spacingAndGlyphs">0</tspan></text>
<text y="1027.13" font-size="67.50" stroke-width="0.9"><tspan x="1982.05" textLength="32.06" lengthAdjust="spacingAndGlyphs">2</tspan><tspan x="2014.14" textLength="32.06" lengthAdjust="spacingAndGlyphs">0</tspan><tspan x="2046.59" textLength="32.06" lengthAdjust="spacingAndGlyphs">0</tspan></text>
<text y="1216.91" font-size="67.50" stroke-width="0.9"><tspan x="1980.80" textLength="32.06" lengthAdjust="spacingAndGlyphs">1</tspan><tspan x="2014.14" textLength="32.06" lengthAdjust="spacingAndGlyphs">0</tspan><tspan x="2046.59" textLength="32.06" lengthAdjust="spacingAndGlyphs">0</tspan></text>
<text y="1406.70" font-size="67.50" stroke-width="0.9"><tspan x="1981.69" textLength="32.06" lengthAdjust="spacingAndGlyphs">0</tspan></text>
</svg>
</body></html>
